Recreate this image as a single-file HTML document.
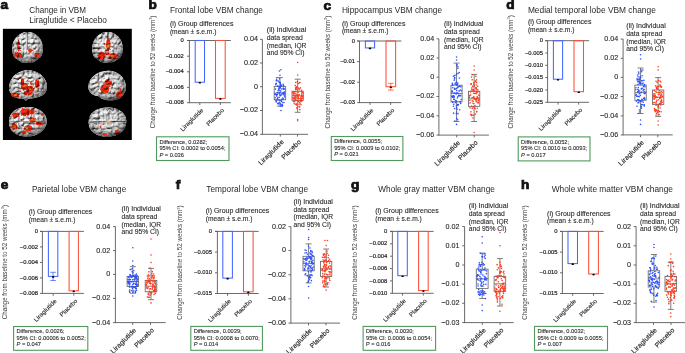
<!DOCTYPE html>
<html><head><meta charset="utf-8"><style>
html,body{margin:0;padding:0;background:#fff;}
svg{display:block;will-change:transform;}
text{font-family:"Liberation Sans", sans-serif;}
.b{stroke:#1e1e1e;stroke-width:0.09px;}
.s{stroke:#1e1e1e;stroke-width:0.2px;}
</style></head><body>
<svg width="685" height="353" viewBox="0 0 685 353" font-family='"Liberation Sans", sans-serif' fill="#1e1e1e">
<rect x="2.9" y="28.8" width="128.9" height="111.2" fill="#000"/>
<text transform="translate(0.6,9) scale(1.12,1)" x="0" y="0" font-size="12.2" font-weight="bold" stroke="#111" stroke-width="0.75" fill="#111">a</text>
<text x="29.30" y="13.00" font-size="8.2" textLength="56.70" lengthAdjust="spacingAndGlyphs" fill="#2a2a2a">Change in VBM</text>
<text x="29.30" y="22.50" font-size="8.2" textLength="77.60" lengthAdjust="spacingAndGlyphs" fill="#2a2a2a">Liraglutide &lt; Placebo</text>
<defs>
<radialGradient id="bg" cx="0.45" cy="0.4" r="0.62">
<stop offset="0" stop-color="#ffffff"/><stop offset="0.5" stop-color="#f2f2f2"/><stop offset="0.82" stop-color="#b4b4b4"/><stop offset="1" stop-color="#4c4c4c"/>
</radialGradient>
<filter id="bump" x="0" y="0" width="1" height="1" color-interpolation-filters="sRGB">
<feTurbulence type="turbulence" baseFrequency="0.2" numOctaves="3" seed="5" result="t"/>
<feColorMatrix in="t" type="matrix" values="0 0 0 0 0  0 0 0 0 0  0 0 0 0 0  1 0 0 0 0" result="h"/>
<feDiffuseLighting in="h" surfaceScale="2.2" diffuseConstant="1.15" lighting-color="#e8e8e8" result="lit">
<feDistantLight azimuth="235" elevation="55"/>
</feDiffuseLighting>
<feComposite in="lit" in2="SourceGraphic" operator="in" result="c"/>
<feBlend in="c" in2="SourceGraphic" mode="multiply"/>
</filter>
<filter id="tex" x="0" y="0" width="1" height="1" color-interpolation-filters="sRGB">
<feTurbulence type="fractalNoise" baseFrequency="0.24" numOctaves="2" seed="11" result="n"/>
<feColorMatrix in="n" type="matrix" values="0 0 0 0 0  0 0 0 0 0  0 0 0 0 0  1 0 0 0 0" result="r"/>
<feComponentTransfer in="r" result="a0"><feFuncA type="table" tableValues="0 0 0 0.1 0.9 0.1 0 0 0"/></feComponentTransfer>
<feGaussianBlur in="a0" stdDeviation="0.35" result="a"/>
<feComposite in="a" in2="SourceGraphic" operator="in"/>
</filter>
<filter id="rb" x="-0.5" y="-0.5" width="2" height="2"><feGaussianBlur stdDeviation="0.4"/></filter>
<filter id="disp" x="0" y="0" width="1" height="1" color-interpolation-filters="sRGB">
<feTurbulence type="fractalNoise" baseFrequency="0.6" numOctaves="2" seed="4" result="t"/>
<feDisplacementMap in="SourceGraphic" in2="t" scale="2.6" xChannelSelector="R" yChannelSelector="G" result="d"/>
<feGaussianBlur in="d" stdDeviation="0.35"/>
</filter>
</defs>
<g filter="url(#bump)">
<path d="M27.6,32.1 C35,32 42.5,38 42.9,48 C43.2,53 41.5,57 39,58.5 C36,60 35,62.5 30,62.7 C27.5,62.9 26,62.9 24,62.7 C20,62.5 19,60 16,58.5 C13.5,57 12,53 12.3,48 C12.7,38 20,32.1 27.6,32.1 Z" fill="url(#bg)"/>
<path d="M107.6,32.1 C115,32 122.5,38 122.7,48 C123,53 121.5,57 119,58.5 C116,60 115,62.3 110,62.4 C107.5,62.6 106,62.6 104,62.4 C100,62.3 99,60 96,58.5 C93.5,57 92,53 92.3,48 C92.7,38 100,32.1 107.6,32.1 Z" fill="url(#bg)"/>
<path d="M9.1,88 C9,80 15,71.5 26,70.3 C36,69.5 44,75 46.5,83 C47.8,88 46.5,92.5 43,95 C39,97.5 33,98.5 28,98.8 L26,100.8 L23.5,98.8 C20,99.5 15,98 12,94.5 C10,92.5 9.1,90.5 9.1,88 Z" fill="url(#bg)"/>
<path d="M88.3,86 C89,78 97,71 108,70.8 C118,70.6 125.5,78 125.9,86.5 C126.2,92 123,97 117,99.5 C112,101 106,100.5 101,98.5 L98,96 C94,96 90,93 88.8,90 C88.4,88.5 88.3,87.5 88.3,86 Z" fill="url(#bg)"/>
<path d="M9,121.5 C9,113 16,107.2 28,107.1 C39,107 46.8,114 46.8,121 C46.8,129 39,136.6 27,136.6 C16,136.6 9,130 9,123 L10.5,122 Z" fill="url(#bg)"/>
<path d="M88.6,122.4 C88.6,113 96,107.6 108.5,107.6 C119,107.6 126.3,114 126.3,121 C126.3,130 119,136.6 107.5,136.6 C96,136.6 88.6,131 88.6,122.4 Z" fill="url(#bg)"/>
<path d="M27.6,32.5 L27.6,50" stroke="#555" stroke-width="0.7" fill="none"/>
<path d="M107.6,32.5 L107.6,50" stroke="#555" stroke-width="0.7" fill="none"/>
<path d="M89.5,122.2 C100,121.6 115,121.8 125.8,121.5" stroke="#3c3c3c" stroke-width="0.9" fill="none"/>
<path d="M10,121.7 C20,121.4 35,121.6 46,121.2" stroke="#6a6a6a" stroke-width="0.6" fill="none"/>
<g filter="url(#disp)"><rect x="2.6" y="28.8" width="129" height="110.2" fill="none"/>
<ellipse cx="18.6" cy="46.3" rx="1.45" ry="5.22" fill="#ff2a12"/>
<ellipse cx="17.9" cy="54.8" rx="4.04" ry="2.51" fill="#ff2a12" transform="rotate(10 17.9 54.8)"/>
<ellipse cx="20.5" cy="56.8" rx="1.57" ry="1.21" fill="#ff2a12"/>
<ellipse cx="30.0" cy="50.6" rx="1.92" ry="2.04" fill="#ff2a12"/>
<ellipse cx="37.2" cy="54.9" rx="2.86" ry="2.04" fill="#ff2a12"/>
<ellipse cx="31.4" cy="59.8" rx="0.98" ry="0.98" fill="#ff2a12"/>
<ellipse cx="108.4" cy="44.6" rx="2.27" ry="6.29" fill="#ff2a12"/>
<ellipse cx="108.3" cy="46.2" rx="1.09" ry="2.75" fill="#ff7a10"/>
<ellipse cx="108.3" cy="46.4" rx="0.68" ry="1.57" fill="#ffd23a"/>
<ellipse cx="101.8" cy="56.0" rx="3.69" ry="4.04" fill="#ff2a12"/>
<ellipse cx="107.5" cy="53.8" rx="2.51" ry="1.57" fill="#ff2a12"/>
<ellipse cx="113.0" cy="56.4" rx="4.40" ry="3.22" fill="#ff2a12"/>
<ellipse cx="111.8" cy="56.0" rx="1.92" ry="1.33" fill="#ff7a10"/>
<ellipse cx="98.5" cy="49.5" rx="0.86" ry="0.86" fill="#ff2a12"/>
<ellipse cx="104.5" cy="44" rx="0.86" ry="1.09" fill="#ff2a12"/>
<ellipse cx="113" cy="43" rx="0.74" ry="0.86" fill="#ff2a12"/>
<ellipse cx="106.5" cy="50.5" rx="1.57" ry="1.09" fill="#ff2a12"/>
<ellipse cx="22.5" cy="81.5" rx="1.68" ry="3.10" fill="#ff2a12"/>
<ellipse cx="24.5" cy="86.5" rx="3.69" ry="3.45" fill="#ff2a12"/>
<ellipse cx="25.8" cy="86.0" rx="1.92" ry="1.33" fill="#ff7a10"/>
<ellipse cx="30.0" cy="89.0" rx="3.93" ry="3.22" fill="#ff2a12"/>
<ellipse cx="30.2" cy="89.2" rx="1.92" ry="1.33" fill="#ff7a10"/>
<ellipse cx="30.2" cy="89.2" rx="0.98" ry="0.74" fill="#ffd23a"/>
<ellipse cx="28.0" cy="93.0" rx="4.40" ry="2.27" fill="#ff2a12"/>
<ellipse cx="37.2" cy="84.0" rx="2.27" ry="4.40" fill="#ff2a12"/>
<ellipse cx="15.6" cy="95.0" rx="3.93" ry="2.27" fill="#ff2a12"/>
<ellipse cx="15.6" cy="95.2" rx="1.68" ry="0.98" fill="#ff7a10"/>
<ellipse cx="28.3" cy="80.5" rx="1.09" ry="1.09" fill="#ff2a12"/>
<ellipse cx="31.5" cy="83.5" rx="1.21" ry="1.21" fill="#ff2a12"/>
<ellipse cx="20.5" cy="91.5" rx="1.09" ry="1.09" fill="#ff2a12"/>
<ellipse cx="35.5" cy="92" rx="1.09" ry="0.86" fill="#ff2a12"/>
<ellipse cx="20.5" cy="77.5" rx="0.86" ry="1.33" fill="#ff2a12"/>
<ellipse cx="104.8" cy="89.0" rx="4.40" ry="4.87" fill="#ff2a12"/>
<ellipse cx="103.0" cy="92.3" rx="1.80" ry="1.57" fill="#ff7a10"/>
<ellipse cx="102.8" cy="92.6" rx="0.86" ry="0.86" fill="#ffd23a"/>
<ellipse cx="108.3" cy="83.0" rx="3.69" ry="4.04" fill="#ff2a12"/>
<ellipse cx="107.3" cy="85.3" rx="1.57" ry="1.21" fill="#ff7a10"/>
<ellipse cx="107.3" cy="85.5" rx="0.86" ry="0.74" fill="#ffd23a"/>
<ellipse cx="119.3" cy="94.5" rx="3.22" ry="2.98" fill="#ff2a12"/>
<ellipse cx="120.5" cy="89.5" rx="1.09" ry="1.57" fill="#ff2a12"/>
<ellipse cx="98.5" cy="82" rx="0.86" ry="0.86" fill="#ff2a12"/>
<ellipse cx="112" cy="88" rx="1.33" ry="0.86" fill="#ff2a12"/>
<ellipse cx="25.5" cy="112.2" rx="5.11" ry="4.04" fill="#ff2a12"/>
<ellipse cx="31.5" cy="111.8" rx="3.22" ry="2.75" fill="#ff2a12"/>
<ellipse cx="16.0" cy="115.2" rx="3.69" ry="2.27" fill="#ff2a12" transform="rotate(-20 16.0 115.2)"/>
<ellipse cx="32.5" cy="120.0" rx="3.10" ry="2.51" fill="#ff2a12"/>
<ellipse cx="32.8" cy="119.8" rx="1.57" ry="1.21" fill="#ff7a10"/>
<ellipse cx="39.5" cy="123.5" rx="3.93" ry="1.92" fill="#ff2a12"/>
<ellipse cx="14.4" cy="126.5" rx="2.75" ry="3.10" fill="#ff2a12"/>
<ellipse cx="14.8" cy="127.2" rx="1.21" ry="1.21" fill="#ff7a10"/>
<ellipse cx="28.3" cy="128.5" rx="4.28" ry="3.22" fill="#ff2a12"/>
<ellipse cx="26.5" cy="128.2" rx="1.33" ry="1.09" fill="#ffd23a"/>
<ellipse cx="24.0" cy="132.5" rx="2.75" ry="1.68" fill="#ff2a12"/>
<ellipse cx="21.5" cy="119.8" rx="0.98" ry="0.98" fill="#ff2a12"/>
<ellipse cx="42.5" cy="115.0" rx="1.33" ry="1.09" fill="#ff2a12"/>
<ellipse cx="107.0" cy="110.3" rx="1.21" ry="0.98" fill="#ff2a12"/>
<ellipse cx="108.3" cy="121.5" rx="3.93" ry="0.86" fill="#ff7a10"/>
<ellipse cx="108.3" cy="121.5" rx="1.92" ry="0.56" fill="#ffd23a"/>
<ellipse cx="117.0" cy="132.0" rx="2.27" ry="1.45" fill="#ff2a12"/>
<ellipse cx="105.0" cy="134.6" rx="2.16" ry="1.33" fill="#ff2a12"/>
<ellipse cx="100.5" cy="126.8" rx="0.98" ry="1.33" fill="#ff2a12"/>
<ellipse cx="101.5" cy="129.5" rx="0.74" ry="0.74" fill="#ff2a12"/>
<ellipse cx="94" cy="121.6" rx="0.86" ry="0.62" fill="#ff2a12"/>
</g>
</g>
<text transform="translate(148.6,9.2) scale(1.12,1)" x="0" y="0" font-size="12.2" font-weight="bold" stroke="#111" stroke-width="0.75" fill="#111">b</text>
<text x="169.90" y="12.80" font-size="8.2" textLength="93.00" lengthAdjust="spacingAndGlyphs" fill="#2a2a2a">Frontal lobe VBM change</text>
<text x="169.90" y="25.90" font-size="7" textLength="63.50" lengthAdjust="spacingAndGlyphs" class="b">(i) Group differences</text>
<text x="169.90" y="33.60" font-size="7" textLength="46.60" lengthAdjust="spacingAndGlyphs" class="b">(mean ± s.e.m.)</text>
<text transform="translate(154.50,71.95) rotate(-90)" x="0" y="0" font-size="6.3" fill="#3a3a3a" text-anchor="middle" textLength="112.70" lengthAdjust="spacingAndGlyphs">Change from baseline to 52 weeks (mm<tspan font-size="4" dy="-2.4">3</tspan><tspan dy="2.4">)</tspan></text>
<line x1="189.40" y1="40.50" x2="189.40" y2="103.15" stroke="#5a5a5a" stroke-width="0.9"/>
<line x1="187.00" y1="40.50" x2="189.40" y2="40.50" stroke="#5a5a5a" stroke-width="0.9"/>
<text x="183.70" y="42.10" font-size="5.85" text-anchor="end" class="s">0</text>
<line x1="187.00" y1="56.20" x2="189.40" y2="56.20" stroke="#5a5a5a" stroke-width="0.9"/>
<text x="183.70" y="57.80" font-size="5.85" text-anchor="end" class="s">−0.002</text>
<line x1="187.00" y1="71.80" x2="189.40" y2="71.80" stroke="#5a5a5a" stroke-width="0.9"/>
<text x="183.70" y="73.40" font-size="5.85" text-anchor="end" class="s">−0.004</text>
<line x1="187.00" y1="87.40" x2="189.40" y2="87.40" stroke="#5a5a5a" stroke-width="0.9"/>
<text x="183.70" y="89.00" font-size="5.85" text-anchor="end" class="s">−0.006</text>
<line x1="187.00" y1="102.70" x2="189.40" y2="102.70" stroke="#5a5a5a" stroke-width="0.9"/>
<text x="183.70" y="104.30" font-size="5.85" text-anchor="end" class="s">−0.008</text>
<line x1="187.00" y1="40.50" x2="230.80" y2="40.50" stroke="#5a5a5a" stroke-width="0.9"/>
<line x1="189.40" y1="102.70" x2="230.80" y2="102.70" stroke="#5a5a5a" stroke-width="0.9"/>
<line x1="199.80" y1="102.70" x2="199.80" y2="105.00" stroke="#5a5a5a" stroke-width="0.9"/>
<line x1="220.40" y1="102.70" x2="220.40" y2="105.00" stroke="#5a5a5a" stroke-width="0.9"/>
<rect x="195.20" y="40.50" width="9.30" height="41.70" fill="none" stroke="#4468ff" stroke-width="1.05"/>
<ellipse cx="199.85" cy="82.75" rx="1.25" ry="0.85" fill="#000"/>
<rect x="215.50" y="40.50" width="9.70" height="57.90" fill="none" stroke="#fb503a" stroke-width="1.05"/>
<ellipse cx="220.35" cy="98.95" rx="1.25" ry="0.85" fill="#000"/>
<text transform="translate(203.70,110.70) rotate(-45) scale(0.0961,0.09)" x="0" y="0" font-size="67" text-anchor="end" stroke="#1e1e1e" stroke-width="1.3">Liraglutide</text>
<text transform="translate(224.30,110.70) rotate(-45) scale(0.0914,0.09)" x="0" y="0" font-size="67" text-anchor="end" stroke="#1e1e1e" stroke-width="1.3">Placebo</text>
<rect x="156.50" y="136.80" width="72.50" height="23.70" fill="none" stroke="#4f9a5c" stroke-width="1.1"/>
<text x="159.40" y="143.70" font-size="5.7" class="b">Difference, 0.0282;</text>
<text x="159.40" y="150.20" font-size="5.7" class="b">95% CI: 0.0002 to 0.0054;</text>
<text class="b" x="159.40" y="156.70" font-size="5.7"><tspan font-style="italic">P</tspan> = 0.036</text>
<text x="266.80" y="32.00" font-size="7" textLength="39.40" lengthAdjust="spacingAndGlyphs" class="b">(ii) Individual</text>
<text x="266.80" y="39.80" font-size="7" textLength="35.90" lengthAdjust="spacingAndGlyphs" class="b">data spread</text>
<text x="266.80" y="47.60" font-size="7" textLength="39.60" lengthAdjust="spacingAndGlyphs" class="b">(median, IQR</text>
<text x="266.80" y="55.40" font-size="7" textLength="37.60" lengthAdjust="spacingAndGlyphs" class="b">and 95% CI)</text>
<line x1="262.40" y1="39.30" x2="262.40" y2="134.75" stroke="#5a5a5a" stroke-width="0.9"/>
<line x1="260.00" y1="39.30" x2="262.40" y2="39.30" stroke="#5a5a5a" stroke-width="0.9"/>
<text x="257.90" y="41.20" font-size="7.2" text-anchor="end" class="b">0.04</text>
<line x1="260.00" y1="63.00" x2="262.40" y2="63.00" stroke="#5a5a5a" stroke-width="0.9"/>
<text x="257.90" y="64.90" font-size="7.2" text-anchor="end" class="b">0.02</text>
<line x1="260.00" y1="86.70" x2="262.40" y2="86.70" stroke="#5a5a5a" stroke-width="0.9"/>
<text x="257.90" y="88.60" font-size="7.2" text-anchor="end" class="b">0</text>
<line x1="260.00" y1="110.50" x2="262.40" y2="110.50" stroke="#5a5a5a" stroke-width="0.9"/>
<text x="257.90" y="112.40" font-size="7.2" text-anchor="end" class="b">−0.02</text>
<line x1="260.00" y1="134.30" x2="262.40" y2="134.30" stroke="#5a5a5a" stroke-width="0.9"/>
<text x="257.90" y="136.20" font-size="7.2" text-anchor="end" class="b">−0.04</text>
<line x1="262.40" y1="134.30" x2="308.00" y2="134.30" stroke="#5a5a5a" stroke-width="0.9"/>
<line x1="280.30" y1="134.30" x2="280.30" y2="136.60" stroke="#5a5a5a" stroke-width="0.9"/>
<line x1="297.50" y1="134.30" x2="297.50" y2="136.60" stroke="#5a5a5a" stroke-width="0.9"/>
<text transform="translate(284.20,142.30) rotate(-45) scale(0.1068,0.1)" x="0" y="0" font-size="67" text-anchor="end" stroke="#1e1e1e" stroke-width="1.3">Liraglutide</text>
<text transform="translate(301.40,142.30) rotate(-45) scale(0.1016,0.1)" x="0" y="0" font-size="67" text-anchor="end" stroke="#1e1e1e" stroke-width="1.3">Placebo</text>
<rect x="274.20" y="86.40" width="11.50" height="13.40" fill="none" stroke="#686868" stroke-width="0.85"/>
<line x1="274.20" y1="93.10" x2="285.70" y2="93.10" stroke="#686868" stroke-width="0.85"/>
<line x1="279.95" y1="77.60" x2="279.95" y2="86.40" stroke="#686868" stroke-width="0.85"/>
<line x1="279.95" y1="99.80" x2="279.95" y2="106.10" stroke="#686868" stroke-width="0.85"/>
<line x1="276.95" y1="77.60" x2="282.95" y2="77.60" stroke="#686868" stroke-width="0.85"/>
<line x1="276.95" y1="106.10" x2="282.95" y2="106.10" stroke="#686868" stroke-width="0.85"/>
<g fill="#2d50ff"><circle cx="281.90" cy="105.90" r="0.8"/><circle cx="279.43" cy="92.73" r="0.8"/><circle cx="281.13" cy="104.71" r="0.8"/><circle cx="275.10" cy="94.16" r="0.8"/><circle cx="283.26" cy="88.82" r="0.8"/><circle cx="276.65" cy="77.74" r="0.8"/><circle cx="279.44" cy="100.00" r="0.8"/><circle cx="284.52" cy="91.83" r="0.8"/><circle cx="283.65" cy="86.05" r="0.8"/><circle cx="280.37" cy="95.31" r="0.8"/><circle cx="284.47" cy="93.53" r="0.8"/><circle cx="279.19" cy="88.00" r="0.8"/><circle cx="275.34" cy="97.81" r="0.8"/><circle cx="279.91" cy="94.99" r="0.8"/><circle cx="277.77" cy="103.59" r="0.8"/><circle cx="279.53" cy="93.94" r="0.8"/><circle cx="278.01" cy="100.03" r="0.8"/><circle cx="280.52" cy="95.65" r="0.8"/><circle cx="284.84" cy="89.11" r="0.8"/><circle cx="283.45" cy="88.13" r="0.8"/><circle cx="282.02" cy="99.58" r="0.8"/><circle cx="281.95" cy="99.25" r="0.8"/><circle cx="282.74" cy="102.68" r="0.8"/><circle cx="281.64" cy="89.06" r="0.8"/><circle cx="283.72" cy="88.75" r="0.8"/><circle cx="282.55" cy="105.58" r="0.8"/><circle cx="276.57" cy="79.86" r="0.8"/><circle cx="277.30" cy="92.66" r="0.8"/><circle cx="276.65" cy="96.12" r="0.8"/><circle cx="280.36" cy="83.28" r="0.8"/><circle cx="278.71" cy="88.77" r="0.8"/><circle cx="279.53" cy="78.86" r="0.8"/><circle cx="280.17" cy="92.19" r="0.8"/><circle cx="275.90" cy="84.07" r="0.8"/><circle cx="275.76" cy="100.26" r="0.8"/><circle cx="280.78" cy="84.90" r="0.8"/><circle cx="279.97" cy="88.34" r="0.8"/><circle cx="284.75" cy="96.86" r="0.8"/><circle cx="283.64" cy="94.69" r="0.8"/><circle cx="277.92" cy="80.83" r="0.8"/><circle cx="280.74" cy="90.98" r="0.8"/><circle cx="280.38" cy="85.49" r="0.8"/><circle cx="284.61" cy="95.10" r="0.8"/><circle cx="283.25" cy="93.72" r="0.8"/><circle cx="282.29" cy="105.42" r="0.8"/><circle cx="280.10" cy="82.40" r="0.8"/><circle cx="276.22" cy="83.40" r="0.8"/><circle cx="283.63" cy="89.16" r="0.8"/><circle cx="279.99" cy="87.10" r="0.8"/><circle cx="279.80" cy="90.28" r="0.8"/><circle cx="280.32" cy="87.41" r="0.8"/><circle cx="281.08" cy="100.27" r="0.8"/><circle cx="275.78" cy="84.74" r="0.8"/><circle cx="277.47" cy="85.96" r="0.8"/><circle cx="283.39" cy="98.91" r="0.8"/><circle cx="282.25" cy="104.91" r="0.8"/><circle cx="277.59" cy="98.43" r="0.8"/><circle cx="276.24" cy="101.20" r="0.8"/><circle cx="276.32" cy="80.65" r="0.8"/><circle cx="277.38" cy="94.62" r="0.8"/><circle cx="278.69" cy="103.85" r="0.8"/><circle cx="276.21" cy="101.93" r="0.8"/><circle cx="276.85" cy="99.64" r="0.8"/><circle cx="278.08" cy="103.35" r="0.8"/><circle cx="278.15" cy="90.49" r="0.8"/><circle cx="279.74" cy="82.48" r="0.8"/><circle cx="279.29" cy="102.81" r="0.8"/><circle cx="276.75" cy="94.55" r="0.8"/><circle cx="280.93" cy="86.31" r="0.8"/><circle cx="283.21" cy="92.67" r="0.8"/><circle cx="276.34" cy="94.97" r="0.8"/><circle cx="282.20" cy="93.35" r="0.8"/><circle cx="281.53" cy="101.39" r="0.8"/><circle cx="280.28" cy="106.21" r="0.8"/><circle cx="282.85" cy="98.07" r="0.8"/><circle cx="281.32" cy="86.08" r="0.8"/><circle cx="278.87" cy="92.37" r="0.8"/><circle cx="281.13" cy="85.33" r="0.8"/><circle cx="275.57" cy="89.09" r="0.8"/><circle cx="283.32" cy="85.27" r="0.8"/><circle cx="278.19" cy="86.28" r="0.8"/><circle cx="279.16" cy="87.00" r="0.8"/><circle cx="283.85" cy="93.08" r="0.8"/><circle cx="275.21" cy="94.40" r="0.8"/><circle cx="280.52" cy="103.84" r="0.8"/><circle cx="283.97" cy="102.56" r="0.8"/><circle cx="278.73" cy="89.73" r="0.8"/><circle cx="278.75" cy="81.75" r="0.8"/><circle cx="279.29" cy="97.18" r="0.8"/><circle cx="281.65" cy="94.70" r="0.8"/><circle cx="277.94" cy="97.48" r="0.8"/><circle cx="283.18" cy="84.29" r="0.8"/><circle cx="279.45" cy="71.00" r="0.8"/><circle cx="280.95" cy="69.70" r="0.8"/><circle cx="279.95" cy="75.30" r="0.8"/><circle cx="280.95" cy="110.50" r="0.8"/></g>
<rect x="292.00" y="91.30" width="11.30" height="9.10" fill="none" stroke="#686868" stroke-width="0.85"/>
<line x1="292.00" y1="95.85" x2="303.30" y2="95.85" stroke="#686868" stroke-width="0.85"/>
<line x1="297.65" y1="79.20" x2="297.65" y2="91.30" stroke="#686868" stroke-width="0.85"/>
<line x1="297.65" y1="100.40" x2="297.65" y2="112.30" stroke="#686868" stroke-width="0.85"/>
<line x1="294.65" y1="79.20" x2="300.65" y2="79.20" stroke="#686868" stroke-width="0.85"/>
<line x1="294.65" y1="112.30" x2="300.65" y2="112.30" stroke="#686868" stroke-width="0.85"/>
<g fill="#ff3a1e"><circle cx="301.69" cy="95.86" r="0.8"/><circle cx="296.07" cy="100.34" r="0.8"/><circle cx="302.56" cy="96.36" r="0.8"/><circle cx="294.77" cy="97.10" r="0.8"/><circle cx="299.13" cy="89.84" r="0.8"/><circle cx="296.48" cy="104.04" r="0.8"/><circle cx="299.74" cy="82.52" r="0.8"/><circle cx="302.34" cy="92.86" r="0.8"/><circle cx="295.53" cy="88.68" r="0.8"/><circle cx="294.32" cy="95.41" r="0.8"/><circle cx="301.64" cy="93.05" r="0.8"/><circle cx="298.63" cy="98.47" r="0.8"/><circle cx="299.78" cy="106.93" r="0.8"/><circle cx="295.71" cy="91.69" r="0.8"/><circle cx="301.00" cy="100.38" r="0.8"/><circle cx="299.77" cy="82.54" r="0.8"/><circle cx="295.25" cy="85.66" r="0.8"/><circle cx="293.20" cy="92.85" r="0.8"/><circle cx="293.36" cy="94.85" r="0.8"/><circle cx="300.15" cy="103.77" r="0.8"/><circle cx="296.51" cy="86.99" r="0.8"/><circle cx="296.77" cy="87.03" r="0.8"/><circle cx="298.19" cy="88.05" r="0.8"/><circle cx="295.30" cy="96.31" r="0.8"/><circle cx="301.45" cy="98.60" r="0.8"/><circle cx="297.43" cy="81.74" r="0.8"/><circle cx="295.76" cy="89.80" r="0.8"/><circle cx="292.93" cy="98.77" r="0.8"/><circle cx="298.64" cy="83.54" r="0.8"/><circle cx="301.39" cy="98.65" r="0.8"/><circle cx="293.08" cy="97.67" r="0.8"/><circle cx="296.86" cy="97.16" r="0.8"/><circle cx="295.16" cy="98.90" r="0.8"/><circle cx="300.03" cy="98.56" r="0.8"/><circle cx="296.93" cy="107.69" r="0.8"/><circle cx="301.01" cy="104.78" r="0.8"/><circle cx="295.42" cy="100.59" r="0.8"/><circle cx="297.43" cy="92.81" r="0.8"/><circle cx="294.14" cy="103.78" r="0.8"/><circle cx="293.43" cy="101.62" r="0.8"/><circle cx="298.49" cy="101.46" r="0.8"/><circle cx="297.14" cy="95.23" r="0.8"/><circle cx="301.81" cy="94.91" r="0.8"/><circle cx="302.28" cy="98.09" r="0.8"/><circle cx="294.92" cy="99.07" r="0.8"/><circle cx="298.84" cy="95.23" r="0.8"/><circle cx="299.04" cy="104.22" r="0.8"/><circle cx="299.28" cy="94.79" r="0.8"/><circle cx="295.71" cy="95.37" r="0.8"/><circle cx="295.78" cy="104.26" r="0.8"/><circle cx="302.02" cy="100.63" r="0.8"/><circle cx="297.14" cy="98.53" r="0.8"/><circle cx="301.48" cy="90.25" r="0.8"/><circle cx="296.82" cy="87.94" r="0.8"/><circle cx="295.84" cy="93.75" r="0.8"/><circle cx="300.66" cy="101.48" r="0.8"/><circle cx="296.13" cy="100.34" r="0.8"/><circle cx="298.07" cy="92.30" r="0.8"/><circle cx="295.72" cy="87.86" r="0.8"/><circle cx="293.23" cy="91.53" r="0.8"/><circle cx="298.17" cy="95.95" r="0.8"/><circle cx="293.46" cy="98.46" r="0.8"/><circle cx="296.12" cy="104.38" r="0.8"/><circle cx="300.34" cy="100.21" r="0.8"/><circle cx="295.77" cy="82.42" r="0.8"/><circle cx="297.66" cy="96.42" r="0.8"/><circle cx="302.17" cy="96.60" r="0.8"/><circle cx="294.46" cy="93.25" r="0.8"/><circle cx="300.74" cy="99.05" r="0.8"/><circle cx="297.79" cy="94.49" r="0.8"/><circle cx="301.71" cy="98.75" r="0.8"/><circle cx="294.29" cy="92.00" r="0.8"/><circle cx="299.85" cy="109.60" r="0.8"/><circle cx="301.12" cy="101.61" r="0.8"/><circle cx="300.70" cy="97.02" r="0.8"/><circle cx="299.21" cy="106.64" r="0.8"/><circle cx="299.17" cy="88.73" r="0.8"/><circle cx="294.36" cy="98.98" r="0.8"/><circle cx="299.43" cy="102.31" r="0.8"/><circle cx="293.39" cy="93.31" r="0.8"/><circle cx="301.89" cy="91.37" r="0.8"/><circle cx="298.05" cy="98.90" r="0.8"/><circle cx="300.32" cy="87.90" r="0.8"/><circle cx="296.31" cy="89.37" r="0.8"/><circle cx="295.25" cy="97.81" r="0.8"/><circle cx="297.08" cy="105.46" r="0.8"/><circle cx="298.36" cy="97.34" r="0.8"/><circle cx="294.55" cy="101.69" r="0.8"/><circle cx="293.97" cy="98.26" r="0.8"/><circle cx="296.62" cy="95.12" r="0.8"/><circle cx="297.09" cy="108.51" r="0.8"/><circle cx="293.01" cy="92.11" r="0.8"/><circle cx="297.65" cy="62.50" r="0.8"/><circle cx="297.65" cy="75.00" r="0.8"/><circle cx="297.65" cy="120.80" r="0.8"/><circle cx="297.65" cy="119.50" r="0.8"/></g>
<text transform="translate(323.6,9.6) scale(1.12,1)" x="0" y="0" font-size="12.2" font-weight="bold" stroke="#111" stroke-width="0.75" fill="#111">c</text>
<text x="341.90" y="12.90" font-size="8.2" textLength="100.10" lengthAdjust="spacingAndGlyphs" fill="#2a2a2a">Hippocampus VBM change</text>
<text x="341.90" y="25.60" font-size="7" textLength="63.50" lengthAdjust="spacingAndGlyphs" class="b">(i) Group differences</text>
<text x="341.90" y="33.30" font-size="7" textLength="46.60" lengthAdjust="spacingAndGlyphs" class="b">(mean ± s.e.m.)</text>
<text transform="translate(329.70,72.15) rotate(-90)" x="0" y="0" font-size="6.3" fill="#3a3a3a" text-anchor="middle" textLength="112.70" lengthAdjust="spacingAndGlyphs">Change from baseline to 52 weeks (mm<tspan font-size="4" dy="-2.4">3</tspan><tspan dy="2.4">)</tspan></text>
<line x1="359.50" y1="41.00" x2="359.50" y2="103.05" stroke="#5a5a5a" stroke-width="0.9"/>
<line x1="357.10" y1="41.00" x2="359.50" y2="41.00" stroke="#5a5a5a" stroke-width="0.9"/>
<text x="355.00" y="42.60" font-size="5.85" text-anchor="end" class="s">0</text>
<line x1="357.10" y1="61.60" x2="359.50" y2="61.60" stroke="#5a5a5a" stroke-width="0.9"/>
<text x="355.00" y="63.20" font-size="5.85" text-anchor="end" class="s">−0.01</text>
<line x1="357.10" y1="82.20" x2="359.50" y2="82.20" stroke="#5a5a5a" stroke-width="0.9"/>
<text x="355.00" y="83.80" font-size="5.85" text-anchor="end" class="s">−0.02</text>
<line x1="357.10" y1="102.60" x2="359.50" y2="102.60" stroke="#5a5a5a" stroke-width="0.9"/>
<text x="355.00" y="104.20" font-size="5.85" text-anchor="end" class="s">−0.03</text>
<line x1="357.10" y1="41.00" x2="401.40" y2="41.00" stroke="#5a5a5a" stroke-width="0.9"/>
<line x1="359.50" y1="102.60" x2="401.40" y2="102.60" stroke="#5a5a5a" stroke-width="0.9"/>
<line x1="370.00" y1="102.60" x2="370.00" y2="104.90" stroke="#5a5a5a" stroke-width="0.9"/>
<line x1="390.70" y1="102.60" x2="390.70" y2="104.90" stroke="#5a5a5a" stroke-width="0.9"/>
<rect x="365.40" y="41.00" width="9.20" height="6.90" fill="none" stroke="#4468ff" stroke-width="1.05"/>
<ellipse cx="370.00" cy="48.45" rx="1.25" ry="0.85" fill="#000"/>
<rect x="386.00" y="41.00" width="9.60" height="45.70" fill="none" stroke="#fb503a" stroke-width="1.05"/>
<line x1="390.80" y1="83.30" x2="390.80" y2="90.10" stroke="#fb503a" stroke-width="0.8"/>
<line x1="388.00" y1="83.30" x2="393.60" y2="83.30" stroke="#fb503a" stroke-width="0.8"/>
<line x1="388.00" y1="90.10" x2="393.60" y2="90.10" stroke="#fb503a" stroke-width="0.8"/>
<ellipse cx="390.80" cy="87.25" rx="1.25" ry="0.85" fill="#000"/>
<text transform="translate(373.90,110.60) rotate(-45) scale(0.0961,0.09)" x="0" y="0" font-size="67" text-anchor="end" stroke="#1e1e1e" stroke-width="1.3">Liraglutide</text>
<text transform="translate(394.60,110.60) rotate(-45) scale(0.0914,0.09)" x="0" y="0" font-size="67" text-anchor="end" stroke="#1e1e1e" stroke-width="1.3">Placebo</text>
<rect x="331.30" y="136.50" width="71.60" height="24.00" fill="none" stroke="#4f9a5c" stroke-width="1.1"/>
<text x="334.20" y="143.40" font-size="5.7" class="b">Difference, 0.0055;</text>
<text x="334.20" y="149.90" font-size="5.7" class="b">95% CI: 0.0009 to 0.0102;</text>
<text class="b" x="334.20" y="156.40" font-size="5.7"><tspan font-style="italic">P</tspan> = 0.021</text>
<text x="444.00" y="26.30" font-size="7" textLength="39.40" lengthAdjust="spacingAndGlyphs" class="b">(ii) Individual</text>
<text x="444.00" y="33.90" font-size="7" textLength="35.90" lengthAdjust="spacingAndGlyphs" class="b">data spread</text>
<text x="444.00" y="41.50" font-size="7" textLength="39.60" lengthAdjust="spacingAndGlyphs" class="b">(median, IQR</text>
<text x="444.00" y="49.10" font-size="7" textLength="37.60" lengthAdjust="spacingAndGlyphs" class="b">and 95% CI)</text>
<line x1="438.90" y1="38.80" x2="438.90" y2="135.55" stroke="#5a5a5a" stroke-width="0.9"/>
<line x1="436.50" y1="38.80" x2="438.90" y2="38.80" stroke="#5a5a5a" stroke-width="0.9"/>
<text x="434.30" y="40.70" font-size="7.2" text-anchor="end" class="b">0.04</text>
<line x1="436.50" y1="58.00" x2="438.90" y2="58.00" stroke="#5a5a5a" stroke-width="0.9"/>
<text x="434.30" y="59.90" font-size="7.2" text-anchor="end" class="b">0.02</text>
<line x1="436.50" y1="77.20" x2="438.90" y2="77.20" stroke="#5a5a5a" stroke-width="0.9"/>
<text x="434.30" y="79.10" font-size="7.2" text-anchor="end" class="b">0</text>
<line x1="436.50" y1="96.50" x2="438.90" y2="96.50" stroke="#5a5a5a" stroke-width="0.9"/>
<text x="434.30" y="98.40" font-size="7.2" text-anchor="end" class="b">−0.02</text>
<line x1="436.50" y1="115.80" x2="438.90" y2="115.80" stroke="#5a5a5a" stroke-width="0.9"/>
<text x="434.30" y="117.70" font-size="7.2" text-anchor="end" class="b">−0.04</text>
<line x1="436.50" y1="135.10" x2="438.90" y2="135.10" stroke="#5a5a5a" stroke-width="0.9"/>
<text x="434.30" y="137.00" font-size="7.2" text-anchor="end" class="b">−0.06</text>
<line x1="438.90" y1="135.10" x2="488.90" y2="135.10" stroke="#5a5a5a" stroke-width="0.9"/>
<line x1="456.70" y1="135.10" x2="456.70" y2="137.40" stroke="#5a5a5a" stroke-width="0.9"/>
<line x1="474.20" y1="135.10" x2="474.20" y2="137.40" stroke="#5a5a5a" stroke-width="0.9"/>
<text transform="translate(460.60,143.10) rotate(-45) scale(0.1068,0.1)" x="0" y="0" font-size="67" text-anchor="end" stroke="#1e1e1e" stroke-width="1.3">Liraglutide</text>
<text transform="translate(478.10,143.10) rotate(-45) scale(0.1016,0.1)" x="0" y="0" font-size="67" text-anchor="end" stroke="#1e1e1e" stroke-width="1.3">Placebo</text>
<rect x="451.00" y="85.20" width="11.10" height="16.60" fill="none" stroke="#686868" stroke-width="0.85"/>
<line x1="451.00" y1="93.50" x2="462.10" y2="93.50" stroke="#686868" stroke-width="0.85"/>
<line x1="456.55" y1="63.10" x2="456.55" y2="85.20" stroke="#686868" stroke-width="0.85"/>
<line x1="456.55" y1="101.80" x2="456.55" y2="121.50" stroke="#686868" stroke-width="0.85"/>
<line x1="453.55" y1="63.10" x2="459.55" y2="63.10" stroke="#686868" stroke-width="0.85"/>
<line x1="453.55" y1="121.50" x2="459.55" y2="121.50" stroke="#686868" stroke-width="0.85"/>
<g fill="#2d50ff"><circle cx="452.57" cy="85.34" r="0.8"/><circle cx="458.00" cy="113.63" r="0.8"/><circle cx="457.93" cy="105.38" r="0.8"/><circle cx="457.55" cy="87.50" r="0.8"/><circle cx="457.13" cy="109.19" r="0.8"/><circle cx="455.57" cy="100.61" r="0.8"/><circle cx="458.41" cy="104.46" r="0.8"/><circle cx="456.99" cy="92.52" r="0.8"/><circle cx="452.48" cy="84.35" r="0.8"/><circle cx="451.95" cy="96.80" r="0.8"/><circle cx="455.54" cy="82.99" r="0.8"/><circle cx="460.40" cy="95.86" r="0.8"/><circle cx="454.65" cy="77.93" r="0.8"/><circle cx="451.88" cy="90.96" r="0.8"/><circle cx="456.65" cy="90.47" r="0.8"/><circle cx="461.23" cy="99.44" r="0.8"/><circle cx="460.37" cy="89.94" r="0.8"/><circle cx="459.28" cy="86.57" r="0.8"/><circle cx="459.13" cy="90.88" r="0.8"/><circle cx="458.01" cy="66.83" r="0.8"/><circle cx="459.30" cy="72.48" r="0.8"/><circle cx="454.88" cy="121.03" r="0.8"/><circle cx="456.17" cy="93.99" r="0.8"/><circle cx="456.74" cy="74.00" r="0.8"/><circle cx="456.55" cy="65.56" r="0.8"/><circle cx="459.82" cy="95.26" r="0.8"/><circle cx="459.43" cy="78.02" r="0.8"/><circle cx="456.31" cy="113.74" r="0.8"/><circle cx="457.72" cy="68.29" r="0.8"/><circle cx="456.44" cy="82.08" r="0.8"/><circle cx="458.51" cy="95.42" r="0.8"/><circle cx="453.75" cy="104.23" r="0.8"/><circle cx="460.24" cy="101.64" r="0.8"/><circle cx="454.74" cy="88.18" r="0.8"/><circle cx="456.58" cy="112.07" r="0.8"/><circle cx="456.72" cy="88.40" r="0.8"/><circle cx="454.92" cy="83.99" r="0.8"/><circle cx="454.29" cy="80.16" r="0.8"/><circle cx="457.14" cy="64.88" r="0.8"/><circle cx="452.38" cy="91.36" r="0.8"/><circle cx="460.18" cy="101.98" r="0.8"/><circle cx="454.51" cy="75.61" r="0.8"/><circle cx="458.06" cy="93.36" r="0.8"/><circle cx="454.37" cy="89.22" r="0.8"/><circle cx="452.73" cy="97.18" r="0.8"/><circle cx="456.67" cy="118.35" r="0.8"/><circle cx="453.82" cy="99.10" r="0.8"/><circle cx="460.03" cy="86.18" r="0.8"/><circle cx="453.38" cy="76.20" r="0.8"/><circle cx="455.34" cy="102.60" r="0.8"/><circle cx="452.85" cy="102.17" r="0.8"/><circle cx="459.74" cy="109.72" r="0.8"/><circle cx="453.57" cy="113.15" r="0.8"/><circle cx="454.17" cy="96.66" r="0.8"/><circle cx="453.46" cy="96.29" r="0.8"/><circle cx="458.33" cy="86.87" r="0.8"/><circle cx="461.35" cy="90.75" r="0.8"/><circle cx="453.13" cy="95.91" r="0.8"/><circle cx="457.51" cy="104.51" r="0.8"/><circle cx="458.93" cy="96.05" r="0.8"/><circle cx="452.37" cy="101.96" r="0.8"/><circle cx="456.08" cy="100.78" r="0.8"/><circle cx="460.51" cy="95.52" r="0.8"/><circle cx="458.12" cy="73.41" r="0.8"/><circle cx="456.33" cy="105.99" r="0.8"/><circle cx="454.51" cy="78.87" r="0.8"/><circle cx="452.80" cy="87.80" r="0.8"/><circle cx="456.09" cy="84.41" r="0.8"/><circle cx="457.37" cy="98.04" r="0.8"/><circle cx="455.52" cy="88.95" r="0.8"/><circle cx="460.80" cy="86.67" r="0.8"/><circle cx="454.17" cy="92.86" r="0.8"/><circle cx="452.43" cy="83.41" r="0.8"/><circle cx="457.07" cy="85.56" r="0.8"/><circle cx="451.98" cy="96.17" r="0.8"/><circle cx="453.25" cy="96.75" r="0.8"/><circle cx="456.61" cy="107.90" r="0.8"/><circle cx="460.70" cy="103.40" r="0.8"/><circle cx="454.65" cy="77.53" r="0.8"/><circle cx="457.36" cy="84.71" r="0.8"/><circle cx="457.76" cy="96.68" r="0.8"/><circle cx="454.27" cy="99.50" r="0.8"/><circle cx="456.05" cy="75.11" r="0.8"/><circle cx="451.96" cy="92.31" r="0.8"/><circle cx="455.65" cy="93.30" r="0.8"/><circle cx="454.66" cy="108.62" r="0.8"/><circle cx="453.38" cy="106.19" r="0.8"/><circle cx="453.81" cy="97.21" r="0.8"/><circle cx="456.74" cy="101.62" r="0.8"/><circle cx="457.75" cy="83.17" r="0.8"/><circle cx="453.73" cy="95.85" r="0.8"/><circle cx="457.71" cy="119.82" r="0.8"/><circle cx="456.55" cy="57.00" r="0.8"/><circle cx="456.55" cy="60.00" r="0.8"/><circle cx="456.55" cy="124.40" r="0.8"/></g>
<rect x="468.50" y="91.30" width="11.30" height="15.00" fill="none" stroke="#686868" stroke-width="0.85"/>
<line x1="468.50" y1="98.80" x2="479.80" y2="98.80" stroke="#686868" stroke-width="0.85"/>
<line x1="474.15" y1="74.40" x2="474.15" y2="91.30" stroke="#686868" stroke-width="0.85"/>
<line x1="474.15" y1="106.30" x2="474.15" y2="121.50" stroke="#686868" stroke-width="0.85"/>
<line x1="471.15" y1="74.40" x2="477.15" y2="74.40" stroke="#686868" stroke-width="0.85"/>
<line x1="471.15" y1="121.50" x2="477.15" y2="121.50" stroke="#686868" stroke-width="0.85"/>
<g fill="#ff3a1e"><circle cx="473.70" cy="82.98" r="0.8"/><circle cx="470.93" cy="84.17" r="0.8"/><circle cx="473.32" cy="97.74" r="0.8"/><circle cx="470.39" cy="91.86" r="0.8"/><circle cx="477.20" cy="97.70" r="0.8"/><circle cx="477.84" cy="89.83" r="0.8"/><circle cx="475.09" cy="108.83" r="0.8"/><circle cx="472.99" cy="90.96" r="0.8"/><circle cx="471.52" cy="115.59" r="0.8"/><circle cx="472.20" cy="100.82" r="0.8"/><circle cx="469.91" cy="107.76" r="0.8"/><circle cx="473.79" cy="84.81" r="0.8"/><circle cx="471.75" cy="87.94" r="0.8"/><circle cx="474.97" cy="105.63" r="0.8"/><circle cx="473.01" cy="106.94" r="0.8"/><circle cx="478.41" cy="102.87" r="0.8"/><circle cx="472.10" cy="115.33" r="0.8"/><circle cx="474.78" cy="107.43" r="0.8"/><circle cx="476.33" cy="89.15" r="0.8"/><circle cx="473.20" cy="106.60" r="0.8"/><circle cx="470.04" cy="102.89" r="0.8"/><circle cx="477.59" cy="102.72" r="0.8"/><circle cx="475.37" cy="80.98" r="0.8"/><circle cx="471.54" cy="76.98" r="0.8"/><circle cx="476.02" cy="88.39" r="0.8"/><circle cx="474.14" cy="82.59" r="0.8"/><circle cx="476.86" cy="91.11" r="0.8"/><circle cx="472.16" cy="108.39" r="0.8"/><circle cx="477.69" cy="86.30" r="0.8"/><circle cx="477.20" cy="96.72" r="0.8"/><circle cx="472.93" cy="118.05" r="0.8"/><circle cx="471.78" cy="90.05" r="0.8"/><circle cx="473.51" cy="90.20" r="0.8"/><circle cx="475.96" cy="99.41" r="0.8"/><circle cx="476.59" cy="111.67" r="0.8"/><circle cx="470.44" cy="91.57" r="0.8"/><circle cx="472.33" cy="74.80" r="0.8"/><circle cx="470.07" cy="95.22" r="0.8"/><circle cx="478.11" cy="100.87" r="0.8"/><circle cx="471.63" cy="114.83" r="0.8"/><circle cx="472.10" cy="97.65" r="0.8"/><circle cx="475.97" cy="100.70" r="0.8"/><circle cx="473.74" cy="115.26" r="0.8"/><circle cx="474.54" cy="93.44" r="0.8"/><circle cx="478.69" cy="97.99" r="0.8"/><circle cx="474.32" cy="98.98" r="0.8"/><circle cx="476.23" cy="93.80" r="0.8"/><circle cx="473.76" cy="97.72" r="0.8"/><circle cx="479.05" cy="95.52" r="0.8"/><circle cx="476.48" cy="87.97" r="0.8"/><circle cx="473.59" cy="93.23" r="0.8"/><circle cx="469.46" cy="96.03" r="0.8"/><circle cx="472.21" cy="79.81" r="0.8"/><circle cx="474.23" cy="85.86" r="0.8"/><circle cx="475.86" cy="87.54" r="0.8"/><circle cx="478.55" cy="100.05" r="0.8"/><circle cx="478.71" cy="95.32" r="0.8"/><circle cx="472.81" cy="86.71" r="0.8"/><circle cx="476.79" cy="98.35" r="0.8"/><circle cx="476.52" cy="82.51" r="0.8"/><circle cx="473.18" cy="101.22" r="0.8"/><circle cx="475.32" cy="114.10" r="0.8"/><circle cx="470.78" cy="114.42" r="0.8"/><circle cx="473.80" cy="96.55" r="0.8"/><circle cx="475.58" cy="93.29" r="0.8"/><circle cx="475.86" cy="76.42" r="0.8"/><circle cx="476.43" cy="101.66" r="0.8"/><circle cx="476.49" cy="79.86" r="0.8"/><circle cx="471.32" cy="83.83" r="0.8"/><circle cx="471.42" cy="106.41" r="0.8"/><circle cx="475.72" cy="81.41" r="0.8"/><circle cx="477.01" cy="92.59" r="0.8"/><circle cx="470.59" cy="95.06" r="0.8"/><circle cx="472.00" cy="89.76" r="0.8"/><circle cx="474.75" cy="91.10" r="0.8"/><circle cx="478.42" cy="91.43" r="0.8"/><circle cx="469.85" cy="100.35" r="0.8"/><circle cx="476.74" cy="111.62" r="0.8"/><circle cx="475.75" cy="99.04" r="0.8"/><circle cx="475.92" cy="99.18" r="0.8"/><circle cx="472.88" cy="86.00" r="0.8"/><circle cx="469.40" cy="97.40" r="0.8"/><circle cx="470.95" cy="111.87" r="0.8"/><circle cx="476.68" cy="98.97" r="0.8"/><circle cx="476.79" cy="91.93" r="0.8"/><circle cx="476.28" cy="85.04" r="0.8"/><circle cx="477.30" cy="108.21" r="0.8"/><circle cx="473.00" cy="103.18" r="0.8"/><circle cx="473.81" cy="103.76" r="0.8"/><circle cx="474.73" cy="98.35" r="0.8"/><circle cx="478.84" cy="100.34" r="0.8"/><circle cx="473.13" cy="89.57" r="0.8"/><circle cx="474.15" cy="132.50" r="0.8"/><circle cx="474.15" cy="66.00" r="0.8"/><circle cx="474.15" cy="70.00" r="0.8"/></g>
<text transform="translate(506.2,8.8) scale(1.12,1)" x="0" y="0" font-size="12.2" font-weight="bold" stroke="#111" stroke-width="0.75" fill="#111">d</text>
<text x="527.90" y="12.70" font-size="8.2" textLength="127.90" lengthAdjust="spacingAndGlyphs" fill="#2a2a2a">Medial temporal lobe VBM change</text>
<text x="527.90" y="23.80" font-size="7" textLength="63.50" lengthAdjust="spacingAndGlyphs" class="b">(i) Group differences</text>
<text x="527.90" y="31.50" font-size="7" textLength="46.60" lengthAdjust="spacingAndGlyphs" class="b">(mean ± s.e.m.)</text>
<text transform="translate(512.70,71.95) rotate(-90)" x="0" y="0" font-size="6.3" fill="#3a3a3a" text-anchor="middle" textLength="113.30" lengthAdjust="spacingAndGlyphs">Change from baseline to 52 weeks (mm<tspan font-size="4" dy="-2.4">3</tspan><tspan dy="2.4">)</tspan></text>
<line x1="547.60" y1="40.70" x2="547.60" y2="102.75" stroke="#5a5a5a" stroke-width="0.9"/>
<line x1="545.20" y1="40.70" x2="547.60" y2="40.70" stroke="#5a5a5a" stroke-width="0.9"/>
<text x="543.00" y="42.30" font-size="5.85" text-anchor="end" class="s">0</text>
<line x1="545.20" y1="53.00" x2="547.60" y2="53.00" stroke="#5a5a5a" stroke-width="0.9"/>
<text x="543.00" y="54.60" font-size="5.85" text-anchor="end" class="s">−0.005</text>
<line x1="545.20" y1="65.30" x2="547.60" y2="65.30" stroke="#5a5a5a" stroke-width="0.9"/>
<text x="543.00" y="66.90" font-size="5.85" text-anchor="end" class="s">−0.010</text>
<line x1="545.20" y1="77.60" x2="547.60" y2="77.60" stroke="#5a5a5a" stroke-width="0.9"/>
<text x="543.00" y="79.20" font-size="5.85" text-anchor="end" class="s">−0.015</text>
<line x1="545.20" y1="90.00" x2="547.60" y2="90.00" stroke="#5a5a5a" stroke-width="0.9"/>
<text x="543.00" y="91.60" font-size="5.85" text-anchor="end" class="s">−0.020</text>
<line x1="545.20" y1="102.30" x2="547.60" y2="102.30" stroke="#5a5a5a" stroke-width="0.9"/>
<text x="543.00" y="103.90" font-size="5.85" text-anchor="end" class="s">−0.025</text>
<line x1="545.20" y1="40.70" x2="589.10" y2="40.70" stroke="#5a5a5a" stroke-width="0.9"/>
<line x1="547.60" y1="102.30" x2="589.10" y2="102.30" stroke="#5a5a5a" stroke-width="0.9"/>
<line x1="558.00" y1="102.30" x2="558.00" y2="104.60" stroke="#5a5a5a" stroke-width="0.9"/>
<line x1="578.70" y1="102.30" x2="578.70" y2="104.60" stroke="#5a5a5a" stroke-width="0.9"/>
<rect x="553.40" y="40.70" width="9.20" height="38.50" fill="none" stroke="#4468ff" stroke-width="1.05"/>
<ellipse cx="558.00" cy="79.75" rx="1.25" ry="0.85" fill="#000"/>
<rect x="574.00" y="40.70" width="9.50" height="51.00" fill="none" stroke="#fb503a" stroke-width="1.05"/>
<ellipse cx="578.75" cy="92.25" rx="1.25" ry="0.85" fill="#000"/>
<text transform="translate(561.90,110.30) rotate(-45) scale(0.0961,0.09)" x="0" y="0" font-size="67" text-anchor="end" stroke="#1e1e1e" stroke-width="1.3">Liraglutide</text>
<text transform="translate(582.60,110.30) rotate(-45) scale(0.0914,0.09)" x="0" y="0" font-size="67" text-anchor="end" stroke="#1e1e1e" stroke-width="1.3">Placebo</text>
<rect x="518.20" y="136.90" width="71.80" height="24.00" fill="none" stroke="#4f9a5c" stroke-width="1.1"/>
<text x="521.10" y="143.80" font-size="5.7" class="b">Difference, 0.0052;</text>
<text x="521.10" y="150.30" font-size="5.7" class="b">95% CI: 0.0010 to 0.0093;</text>
<text class="b" x="521.10" y="156.80" font-size="5.7"><tspan font-style="italic">P</tspan> = 0.017</text>
<text x="626.30" y="28.00" font-size="7" textLength="39.40" lengthAdjust="spacingAndGlyphs" class="b">(ii) Individual</text>
<text x="626.30" y="35.80" font-size="7" textLength="35.90" lengthAdjust="spacingAndGlyphs" class="b">data spread</text>
<text x="626.30" y="43.60" font-size="7" textLength="39.60" lengthAdjust="spacingAndGlyphs" class="b">(median, IQR</text>
<text x="626.30" y="51.40" font-size="7" textLength="37.60" lengthAdjust="spacingAndGlyphs" class="b">and 95% CI)</text>
<line x1="623.10" y1="39.10" x2="623.10" y2="135.35" stroke="#5a5a5a" stroke-width="0.9"/>
<line x1="620.70" y1="39.10" x2="623.10" y2="39.10" stroke="#5a5a5a" stroke-width="0.9"/>
<text x="618.20" y="41.00" font-size="7.2" text-anchor="end" class="b">0.04</text>
<line x1="620.70" y1="58.30" x2="623.10" y2="58.30" stroke="#5a5a5a" stroke-width="0.9"/>
<text x="618.20" y="60.20" font-size="7.2" text-anchor="end" class="b">0.02</text>
<line x1="620.70" y1="77.30" x2="623.10" y2="77.30" stroke="#5a5a5a" stroke-width="0.9"/>
<text x="618.20" y="79.20" font-size="7.2" text-anchor="end" class="b">0</text>
<line x1="620.70" y1="96.60" x2="623.10" y2="96.60" stroke="#5a5a5a" stroke-width="0.9"/>
<text x="618.20" y="98.50" font-size="7.2" text-anchor="end" class="b">−0.02</text>
<line x1="620.70" y1="115.90" x2="623.10" y2="115.90" stroke="#5a5a5a" stroke-width="0.9"/>
<text x="618.20" y="117.80" font-size="7.2" text-anchor="end" class="b">−0.04</text>
<line x1="620.70" y1="134.90" x2="623.10" y2="134.90" stroke="#5a5a5a" stroke-width="0.9"/>
<text x="618.20" y="136.80" font-size="7.2" text-anchor="end" class="b">−0.06</text>
<line x1="623.10" y1="134.90" x2="672.70" y2="134.90" stroke="#5a5a5a" stroke-width="0.9"/>
<line x1="640.50" y1="134.90" x2="640.50" y2="137.20" stroke="#5a5a5a" stroke-width="0.9"/>
<line x1="657.80" y1="134.90" x2="657.80" y2="137.20" stroke="#5a5a5a" stroke-width="0.9"/>
<text transform="translate(644.40,142.90) rotate(-45) scale(0.1068,0.1)" x="0" y="0" font-size="67" text-anchor="end" stroke="#1e1e1e" stroke-width="1.3">Liraglutide</text>
<text transform="translate(661.70,142.90) rotate(-45) scale(0.1016,0.1)" x="0" y="0" font-size="67" text-anchor="end" stroke="#1e1e1e" stroke-width="1.3">Placebo</text>
<rect x="634.90" y="85.10" width="11.30" height="15.20" fill="none" stroke="#686868" stroke-width="0.85"/>
<line x1="634.90" y1="92.70" x2="646.20" y2="92.70" stroke="#686868" stroke-width="0.85"/>
<line x1="640.55" y1="68.00" x2="640.55" y2="85.10" stroke="#686868" stroke-width="0.85"/>
<line x1="640.55" y1="100.30" x2="640.55" y2="113.50" stroke="#686868" stroke-width="0.85"/>
<line x1="637.55" y1="68.00" x2="643.55" y2="68.00" stroke="#686868" stroke-width="0.85"/>
<line x1="637.55" y1="113.50" x2="643.55" y2="113.50" stroke="#686868" stroke-width="0.85"/>
<g fill="#2d50ff"><circle cx="639.24" cy="93.77" r="0.8"/><circle cx="641.32" cy="106.78" r="0.8"/><circle cx="635.71" cy="89.78" r="0.8"/><circle cx="643.91" cy="89.75" r="0.8"/><circle cx="645.55" cy="92.22" r="0.8"/><circle cx="640.28" cy="100.92" r="0.8"/><circle cx="641.85" cy="99.33" r="0.8"/><circle cx="637.67" cy="81.73" r="0.8"/><circle cx="640.72" cy="77.69" r="0.8"/><circle cx="642.14" cy="75.70" r="0.8"/><circle cx="643.14" cy="90.76" r="0.8"/><circle cx="641.45" cy="89.09" r="0.8"/><circle cx="644.24" cy="91.80" r="0.8"/><circle cx="640.28" cy="95.38" r="0.8"/><circle cx="642.63" cy="88.19" r="0.8"/><circle cx="642.82" cy="69.99" r="0.8"/><circle cx="640.17" cy="76.71" r="0.8"/><circle cx="643.97" cy="105.11" r="0.8"/><circle cx="636.96" cy="96.39" r="0.8"/><circle cx="637.76" cy="89.18" r="0.8"/><circle cx="641.57" cy="104.48" r="0.8"/><circle cx="638.56" cy="90.10" r="0.8"/><circle cx="639.33" cy="81.59" r="0.8"/><circle cx="641.41" cy="92.19" r="0.8"/><circle cx="641.59" cy="71.64" r="0.8"/><circle cx="643.93" cy="80.38" r="0.8"/><circle cx="644.13" cy="89.51" r="0.8"/><circle cx="644.96" cy="86.78" r="0.8"/><circle cx="642.25" cy="104.78" r="0.8"/><circle cx="637.96" cy="84.46" r="0.8"/><circle cx="638.57" cy="99.92" r="0.8"/><circle cx="637.17" cy="79.88" r="0.8"/><circle cx="638.18" cy="113.44" r="0.8"/><circle cx="637.11" cy="96.32" r="0.8"/><circle cx="638.85" cy="81.70" r="0.8"/><circle cx="636.01" cy="95.40" r="0.8"/><circle cx="641.17" cy="69.98" r="0.8"/><circle cx="639.44" cy="109.93" r="0.8"/><circle cx="644.23" cy="97.70" r="0.8"/><circle cx="644.34" cy="105.97" r="0.8"/><circle cx="638.64" cy="91.08" r="0.8"/><circle cx="637.02" cy="106.20" r="0.8"/><circle cx="637.75" cy="99.79" r="0.8"/><circle cx="637.90" cy="79.74" r="0.8"/><circle cx="636.47" cy="101.16" r="0.8"/><circle cx="644.84" cy="99.29" r="0.8"/><circle cx="644.20" cy="85.48" r="0.8"/><circle cx="640.73" cy="83.70" r="0.8"/><circle cx="641.82" cy="101.39" r="0.8"/><circle cx="641.51" cy="80.80" r="0.8"/><circle cx="644.51" cy="84.54" r="0.8"/><circle cx="642.31" cy="80.74" r="0.8"/><circle cx="637.90" cy="92.17" r="0.8"/><circle cx="640.73" cy="82.89" r="0.8"/><circle cx="639.70" cy="91.07" r="0.8"/><circle cx="641.36" cy="92.19" r="0.8"/><circle cx="641.48" cy="108.16" r="0.8"/><circle cx="636.14" cy="94.66" r="0.8"/><circle cx="642.13" cy="83.90" r="0.8"/><circle cx="639.26" cy="83.64" r="0.8"/><circle cx="635.93" cy="87.77" r="0.8"/><circle cx="637.73" cy="74.93" r="0.8"/><circle cx="638.64" cy="79.71" r="0.8"/><circle cx="639.24" cy="78.16" r="0.8"/><circle cx="639.22" cy="96.79" r="0.8"/><circle cx="641.49" cy="88.55" r="0.8"/><circle cx="638.85" cy="102.69" r="0.8"/><circle cx="637.03" cy="78.81" r="0.8"/><circle cx="641.07" cy="106.22" r="0.8"/><circle cx="637.75" cy="91.80" r="0.8"/><circle cx="643.16" cy="83.04" r="0.8"/><circle cx="639.90" cy="93.22" r="0.8"/><circle cx="642.37" cy="99.94" r="0.8"/><circle cx="639.05" cy="100.67" r="0.8"/><circle cx="643.71" cy="98.63" r="0.8"/><circle cx="638.63" cy="72.17" r="0.8"/><circle cx="639.09" cy="101.06" r="0.8"/><circle cx="640.18" cy="78.96" r="0.8"/><circle cx="638.87" cy="73.72" r="0.8"/><circle cx="637.92" cy="102.73" r="0.8"/><circle cx="643.20" cy="102.23" r="0.8"/><circle cx="638.37" cy="96.49" r="0.8"/><circle cx="643.45" cy="86.60" r="0.8"/><circle cx="639.35" cy="79.88" r="0.8"/><circle cx="638.00" cy="76.81" r="0.8"/><circle cx="638.35" cy="87.48" r="0.8"/><circle cx="639.62" cy="112.03" r="0.8"/><circle cx="639.78" cy="82.51" r="0.8"/><circle cx="644.55" cy="98.56" r="0.8"/><circle cx="645.02" cy="93.31" r="0.8"/><circle cx="644.38" cy="93.60" r="0.8"/><circle cx="644.14" cy="104.69" r="0.8"/><circle cx="640.55" cy="54.70" r="0.8"/><circle cx="640.55" cy="59.00" r="0.8"/><circle cx="640.55" cy="124.40" r="0.8"/><circle cx="640.55" cy="120.00" r="0.8"/></g>
<rect x="652.50" y="90.00" width="11.30" height="14.40" fill="none" stroke="#686868" stroke-width="0.85"/>
<line x1="652.50" y1="97.20" x2="663.80" y2="97.20" stroke="#686868" stroke-width="0.85"/>
<line x1="658.15" y1="77.60" x2="658.15" y2="90.00" stroke="#686868" stroke-width="0.85"/>
<line x1="658.15" y1="104.40" x2="658.15" y2="116.40" stroke="#686868" stroke-width="0.85"/>
<line x1="655.15" y1="77.60" x2="661.15" y2="77.60" stroke="#686868" stroke-width="0.85"/>
<line x1="655.15" y1="116.40" x2="661.15" y2="116.40" stroke="#686868" stroke-width="0.85"/>
<g fill="#ff3a1e"><circle cx="662.46" cy="96.26" r="0.8"/><circle cx="661.49" cy="100.28" r="0.8"/><circle cx="659.17" cy="114.59" r="0.8"/><circle cx="656.76" cy="88.45" r="0.8"/><circle cx="655.40" cy="96.15" r="0.8"/><circle cx="656.55" cy="110.15" r="0.8"/><circle cx="661.07" cy="103.10" r="0.8"/><circle cx="659.95" cy="103.65" r="0.8"/><circle cx="661.44" cy="86.73" r="0.8"/><circle cx="660.62" cy="95.66" r="0.8"/><circle cx="654.84" cy="96.39" r="0.8"/><circle cx="658.39" cy="92.35" r="0.8"/><circle cx="657.55" cy="112.17" r="0.8"/><circle cx="656.99" cy="110.83" r="0.8"/><circle cx="655.80" cy="91.71" r="0.8"/><circle cx="660.68" cy="105.05" r="0.8"/><circle cx="656.88" cy="87.91" r="0.8"/><circle cx="661.23" cy="101.49" r="0.8"/><circle cx="655.64" cy="109.69" r="0.8"/><circle cx="661.01" cy="103.44" r="0.8"/><circle cx="659.45" cy="97.78" r="0.8"/><circle cx="661.80" cy="96.03" r="0.8"/><circle cx="656.09" cy="105.28" r="0.8"/><circle cx="658.42" cy="99.82" r="0.8"/><circle cx="660.41" cy="86.51" r="0.8"/><circle cx="653.42" cy="102.82" r="0.8"/><circle cx="654.56" cy="102.43" r="0.8"/><circle cx="653.82" cy="99.08" r="0.8"/><circle cx="654.06" cy="93.88" r="0.8"/><circle cx="656.56" cy="87.90" r="0.8"/><circle cx="656.65" cy="97.08" r="0.8"/><circle cx="656.93" cy="88.64" r="0.8"/><circle cx="655.69" cy="85.89" r="0.8"/><circle cx="658.70" cy="94.59" r="0.8"/><circle cx="660.23" cy="102.03" r="0.8"/><circle cx="654.97" cy="94.02" r="0.8"/><circle cx="656.89" cy="100.18" r="0.8"/><circle cx="657.32" cy="82.42" r="0.8"/><circle cx="660.55" cy="85.82" r="0.8"/><circle cx="657.02" cy="89.07" r="0.8"/><circle cx="658.12" cy="89.28" r="0.8"/><circle cx="660.07" cy="93.95" r="0.8"/><circle cx="657.83" cy="86.53" r="0.8"/><circle cx="660.12" cy="97.61" r="0.8"/><circle cx="654.97" cy="110.42" r="0.8"/><circle cx="661.32" cy="87.18" r="0.8"/><circle cx="662.33" cy="102.31" r="0.8"/><circle cx="660.07" cy="81.15" r="0.8"/><circle cx="656.59" cy="113.40" r="0.8"/><circle cx="661.14" cy="91.87" r="0.8"/><circle cx="659.78" cy="98.42" r="0.8"/><circle cx="659.34" cy="111.58" r="0.8"/><circle cx="659.95" cy="84.89" r="0.8"/><circle cx="659.00" cy="92.61" r="0.8"/><circle cx="653.19" cy="95.26" r="0.8"/><circle cx="654.53" cy="108.62" r="0.8"/><circle cx="655.27" cy="111.65" r="0.8"/><circle cx="656.18" cy="115.06" r="0.8"/><circle cx="654.57" cy="110.05" r="0.8"/><circle cx="661.56" cy="100.15" r="0.8"/><circle cx="659.83" cy="92.65" r="0.8"/><circle cx="658.73" cy="110.78" r="0.8"/><circle cx="660.85" cy="98.07" r="0.8"/><circle cx="658.26" cy="94.43" r="0.8"/><circle cx="660.66" cy="96.10" r="0.8"/><circle cx="662.33" cy="92.25" r="0.8"/><circle cx="658.71" cy="105.96" r="0.8"/><circle cx="661.38" cy="100.74" r="0.8"/><circle cx="655.63" cy="97.53" r="0.8"/><circle cx="659.22" cy="103.91" r="0.8"/><circle cx="656.81" cy="97.44" r="0.8"/><circle cx="657.31" cy="86.52" r="0.8"/><circle cx="654.28" cy="90.65" r="0.8"/><circle cx="658.15" cy="106.18" r="0.8"/><circle cx="660.16" cy="108.06" r="0.8"/><circle cx="654.75" cy="95.34" r="0.8"/><circle cx="659.77" cy="90.69" r="0.8"/><circle cx="658.26" cy="80.49" r="0.8"/><circle cx="660.87" cy="81.96" r="0.8"/><circle cx="654.63" cy="98.76" r="0.8"/><circle cx="661.07" cy="111.81" r="0.8"/><circle cx="658.29" cy="107.24" r="0.8"/><circle cx="656.06" cy="81.27" r="0.8"/><circle cx="655.96" cy="103.16" r="0.8"/><circle cx="656.35" cy="101.65" r="0.8"/><circle cx="656.18" cy="110.65" r="0.8"/><circle cx="656.42" cy="87.64" r="0.8"/><circle cx="661.66" cy="94.15" r="0.8"/><circle cx="658.84" cy="86.61" r="0.8"/><circle cx="653.34" cy="96.39" r="0.8"/><circle cx="657.96" cy="104.63" r="0.8"/><circle cx="656.81" cy="92.34" r="0.8"/><circle cx="658.15" cy="66.80" r="0.8"/><circle cx="658.15" cy="70.00" r="0.8"/><circle cx="658.15" cy="125.00" r="0.8"/><circle cx="658.15" cy="121.00" r="0.8"/></g>
<text transform="translate(0.8,189.0) scale(1.12,1)" x="0" y="0" font-size="12.2" font-weight="bold" stroke="#111" stroke-width="0.75" fill="#111">e</text>
<text x="31.90" y="191.50" font-size="8.2" textLength="94.30" lengthAdjust="spacingAndGlyphs" fill="#2a2a2a">Parietal lobe VBM change</text>
<text x="28.80" y="214.40" font-size="7" textLength="63.50" lengthAdjust="spacingAndGlyphs" class="b">(i) Group differences</text>
<text x="28.80" y="222.10" font-size="7" textLength="46.60" lengthAdjust="spacingAndGlyphs" class="b">(mean ± s.e.m.)</text>
<text transform="translate(6.70,262.15) rotate(-90)" x="0" y="0" font-size="6.3" fill="#3a3a3a" text-anchor="middle" textLength="114.30" lengthAdjust="spacingAndGlyphs">Change from baseline to 52 weeks (mm<tspan font-size="4" dy="-2.4">3</tspan><tspan dy="2.4">)</tspan></text>
<line x1="42.40" y1="231.40" x2="42.40" y2="293.85" stroke="#5a5a5a" stroke-width="0.9"/>
<line x1="40.00" y1="231.40" x2="42.40" y2="231.40" stroke="#5a5a5a" stroke-width="0.9"/>
<text x="37.90" y="233.00" font-size="5.85" text-anchor="end" class="s">0</text>
<line x1="40.00" y1="246.90" x2="42.40" y2="246.90" stroke="#5a5a5a" stroke-width="0.9"/>
<text x="37.90" y="248.50" font-size="5.85" text-anchor="end" class="s">−0.002</text>
<line x1="40.00" y1="262.40" x2="42.40" y2="262.40" stroke="#5a5a5a" stroke-width="0.9"/>
<text x="37.90" y="264.00" font-size="5.85" text-anchor="end" class="s">−0.004</text>
<line x1="40.00" y1="277.90" x2="42.40" y2="277.90" stroke="#5a5a5a" stroke-width="0.9"/>
<text x="37.90" y="279.50" font-size="5.85" text-anchor="end" class="s">−0.006</text>
<line x1="40.00" y1="293.40" x2="42.40" y2="293.40" stroke="#5a5a5a" stroke-width="0.9"/>
<text x="37.90" y="295.00" font-size="5.85" text-anchor="end" class="s">−0.008</text>
<line x1="40.00" y1="231.40" x2="83.90" y2="231.40" stroke="#5a5a5a" stroke-width="0.9"/>
<line x1="42.40" y1="293.40" x2="83.90" y2="293.40" stroke="#5a5a5a" stroke-width="0.9"/>
<line x1="53.20" y1="293.40" x2="53.20" y2="295.70" stroke="#5a5a5a" stroke-width="0.9"/>
<line x1="73.80" y1="293.40" x2="73.80" y2="295.70" stroke="#5a5a5a" stroke-width="0.9"/>
<rect x="48.40" y="231.40" width="9.40" height="45.00" fill="none" stroke="#4468ff" stroke-width="1.05"/>
<line x1="53.10" y1="272.30" x2="53.10" y2="280.50" stroke="#4468ff" stroke-width="0.8"/>
<line x1="50.30" y1="272.30" x2="55.90" y2="272.30" stroke="#4468ff" stroke-width="0.8"/>
<line x1="50.30" y1="280.50" x2="55.90" y2="280.50" stroke="#4468ff" stroke-width="0.8"/>
<ellipse cx="53.10" cy="276.95" rx="1.25" ry="0.85" fill="#000"/>
<rect x="69.10" y="231.40" width="9.30" height="59.40" fill="none" stroke="#fb503a" stroke-width="1.05"/>
<ellipse cx="73.75" cy="291.35" rx="1.25" ry="0.85" fill="#000"/>
<text transform="translate(57.10,301.40) rotate(-45) scale(0.0961,0.09)" x="0" y="0" font-size="67" text-anchor="end" stroke="#1e1e1e" stroke-width="1.3">Liraglutide</text>
<text transform="translate(77.70,301.40) rotate(-45) scale(0.0914,0.09)" x="0" y="0" font-size="67" text-anchor="end" stroke="#1e1e1e" stroke-width="1.3">Placebo</text>
<rect x="13.60" y="326.50" width="74.20" height="23.80" fill="none" stroke="#4f9a5c" stroke-width="1.1"/>
<text x="16.50" y="333.40" font-size="5.7" class="b">Difference, 0.0026;</text>
<text x="16.50" y="339.90" font-size="5.7" class="b">95% CI: 0.00006 to 0.0052;</text>
<text class="b" x="16.50" y="346.40" font-size="5.7"><tspan font-style="italic">P</tspan> = 0.047</text>
<text x="121.50" y="211.00" font-size="7" textLength="39.40" lengthAdjust="spacingAndGlyphs" class="b">(ii) Individual</text>
<text x="121.50" y="218.80" font-size="7" textLength="35.90" lengthAdjust="spacingAndGlyphs" class="b">data spread</text>
<text x="121.50" y="226.60" font-size="7" textLength="39.60" lengthAdjust="spacingAndGlyphs" class="b">(median, IQR</text>
<text x="121.50" y="234.40" font-size="7" textLength="37.60" lengthAdjust="spacingAndGlyphs" class="b">and 95% CI)</text>
<line x1="115.40" y1="226.60" x2="115.40" y2="323.05" stroke="#5a5a5a" stroke-width="0.9"/>
<line x1="113.00" y1="226.60" x2="115.40" y2="226.60" stroke="#5a5a5a" stroke-width="0.9"/>
<text x="110.30" y="228.50" font-size="7.2" text-anchor="end" class="b">0.04</text>
<line x1="113.00" y1="250.60" x2="115.40" y2="250.60" stroke="#5a5a5a" stroke-width="0.9"/>
<text x="110.30" y="252.50" font-size="7.2" text-anchor="end" class="b">0.02</text>
<line x1="113.00" y1="274.40" x2="115.40" y2="274.40" stroke="#5a5a5a" stroke-width="0.9"/>
<text x="110.30" y="276.30" font-size="7.2" text-anchor="end" class="b">0</text>
<line x1="113.00" y1="298.40" x2="115.40" y2="298.40" stroke="#5a5a5a" stroke-width="0.9"/>
<text x="110.30" y="300.30" font-size="7.2" text-anchor="end" class="b">−0.02</text>
<line x1="113.00" y1="322.60" x2="115.40" y2="322.60" stroke="#5a5a5a" stroke-width="0.9"/>
<text x="110.30" y="324.50" font-size="7.2" text-anchor="end" class="b">−0.04</text>
<line x1="115.40" y1="322.60" x2="165.70" y2="322.60" stroke="#5a5a5a" stroke-width="0.9"/>
<line x1="132.70" y1="322.60" x2="132.70" y2="324.90" stroke="#5a5a5a" stroke-width="0.9"/>
<line x1="150.50" y1="322.60" x2="150.50" y2="324.90" stroke="#5a5a5a" stroke-width="0.9"/>
<text transform="translate(136.60,330.60) rotate(-45) scale(0.1068,0.1)" x="0" y="0" font-size="67" text-anchor="end" stroke="#1e1e1e" stroke-width="1.3">Liraglutide</text>
<text transform="translate(154.40,330.60) rotate(-45) scale(0.1016,0.1)" x="0" y="0" font-size="67" text-anchor="end" stroke="#1e1e1e" stroke-width="1.3">Placebo</text>
<rect x="127.10" y="276.40" width="11.40" height="10.10" fill="none" stroke="#686868" stroke-width="0.85"/>
<line x1="127.10" y1="281.45" x2="138.50" y2="281.45" stroke="#686868" stroke-width="0.85"/>
<line x1="132.80" y1="266.70" x2="132.80" y2="276.40" stroke="#686868" stroke-width="0.85"/>
<line x1="132.80" y1="286.50" x2="132.80" y2="293.20" stroke="#686868" stroke-width="0.85"/>
<line x1="129.80" y1="266.70" x2="135.80" y2="266.70" stroke="#686868" stroke-width="0.85"/>
<line x1="129.80" y1="293.20" x2="135.80" y2="293.20" stroke="#686868" stroke-width="0.85"/>
<g fill="#2d50ff"><circle cx="131.74" cy="281.76" r="0.8"/><circle cx="129.45" cy="284.93" r="0.8"/><circle cx="136.34" cy="288.38" r="0.8"/><circle cx="135.75" cy="284.53" r="0.8"/><circle cx="133.17" cy="281.95" r="0.8"/><circle cx="130.76" cy="276.17" r="0.8"/><circle cx="129.92" cy="283.11" r="0.8"/><circle cx="136.99" cy="284.59" r="0.8"/><circle cx="135.41" cy="287.91" r="0.8"/><circle cx="130.83" cy="269.51" r="0.8"/><circle cx="135.03" cy="277.59" r="0.8"/><circle cx="135.38" cy="291.23" r="0.8"/><circle cx="133.86" cy="283.78" r="0.8"/><circle cx="134.52" cy="279.27" r="0.8"/><circle cx="132.55" cy="276.77" r="0.8"/><circle cx="128.61" cy="281.27" r="0.8"/><circle cx="133.22" cy="275.46" r="0.8"/><circle cx="133.47" cy="276.36" r="0.8"/><circle cx="132.86" cy="292.19" r="0.8"/><circle cx="132.17" cy="271.66" r="0.8"/><circle cx="129.86" cy="274.99" r="0.8"/><circle cx="130.98" cy="276.82" r="0.8"/><circle cx="128.19" cy="282.30" r="0.8"/><circle cx="134.07" cy="279.39" r="0.8"/><circle cx="132.51" cy="279.69" r="0.8"/><circle cx="131.61" cy="290.54" r="0.8"/><circle cx="131.99" cy="286.39" r="0.8"/><circle cx="129.77" cy="281.37" r="0.8"/><circle cx="131.42" cy="277.40" r="0.8"/><circle cx="135.13" cy="276.99" r="0.8"/><circle cx="136.65" cy="277.34" r="0.8"/><circle cx="129.71" cy="290.10" r="0.8"/><circle cx="135.25" cy="286.45" r="0.8"/><circle cx="133.96" cy="283.49" r="0.8"/><circle cx="129.51" cy="281.98" r="0.8"/><circle cx="132.45" cy="288.14" r="0.8"/><circle cx="135.46" cy="292.61" r="0.8"/><circle cx="137.26" cy="284.53" r="0.8"/><circle cx="127.95" cy="279.65" r="0.8"/><circle cx="135.37" cy="276.73" r="0.8"/><circle cx="133.69" cy="291.02" r="0.8"/><circle cx="129.74" cy="284.03" r="0.8"/><circle cx="132.30" cy="275.77" r="0.8"/><circle cx="137.10" cy="286.25" r="0.8"/><circle cx="131.28" cy="287.00" r="0.8"/><circle cx="129.50" cy="283.71" r="0.8"/><circle cx="135.69" cy="281.58" r="0.8"/><circle cx="128.95" cy="277.42" r="0.8"/><circle cx="137.30" cy="286.16" r="0.8"/><circle cx="128.66" cy="276.91" r="0.8"/><circle cx="128.37" cy="283.80" r="0.8"/><circle cx="129.63" cy="286.95" r="0.8"/><circle cx="129.47" cy="291.27" r="0.8"/><circle cx="137.27" cy="275.79" r="0.8"/><circle cx="128.95" cy="281.78" r="0.8"/><circle cx="132.24" cy="268.76" r="0.8"/><circle cx="137.66" cy="279.09" r="0.8"/><circle cx="131.99" cy="275.93" r="0.8"/><circle cx="128.09" cy="282.23" r="0.8"/><circle cx="136.40" cy="276.47" r="0.8"/><circle cx="136.08" cy="284.14" r="0.8"/><circle cx="130.33" cy="279.55" r="0.8"/><circle cx="130.17" cy="281.47" r="0.8"/><circle cx="136.54" cy="282.86" r="0.8"/><circle cx="129.52" cy="286.70" r="0.8"/><circle cx="133.39" cy="286.89" r="0.8"/><circle cx="136.09" cy="289.04" r="0.8"/><circle cx="134.37" cy="281.00" r="0.8"/><circle cx="132.74" cy="284.59" r="0.8"/><circle cx="130.19" cy="269.48" r="0.8"/><circle cx="136.66" cy="285.15" r="0.8"/><circle cx="134.19" cy="287.49" r="0.8"/><circle cx="135.74" cy="278.35" r="0.8"/><circle cx="133.02" cy="272.85" r="0.8"/><circle cx="133.87" cy="270.72" r="0.8"/><circle cx="137.02" cy="279.13" r="0.8"/><circle cx="136.94" cy="276.00" r="0.8"/><circle cx="136.31" cy="290.43" r="0.8"/><circle cx="136.85" cy="280.34" r="0.8"/><circle cx="129.06" cy="279.48" r="0.8"/><circle cx="129.80" cy="292.34" r="0.8"/><circle cx="129.47" cy="279.27" r="0.8"/><circle cx="134.94" cy="275.03" r="0.8"/><circle cx="136.36" cy="274.15" r="0.8"/><circle cx="137.11" cy="281.57" r="0.8"/><circle cx="127.84" cy="282.04" r="0.8"/><circle cx="135.87" cy="284.10" r="0.8"/><circle cx="135.61" cy="278.85" r="0.8"/><circle cx="136.03" cy="288.27" r="0.8"/><circle cx="130.23" cy="274.88" r="0.8"/><circle cx="136.63" cy="278.27" r="0.8"/><circle cx="135.23" cy="275.54" r="0.8"/><circle cx="132.80" cy="247.80" r="0.8"/><circle cx="132.80" cy="261.00" r="0.8"/><circle cx="132.80" cy="265.60" r="0.8"/><circle cx="132.80" cy="296.00" r="0.8"/></g>
<rect x="145.20" y="280.50" width="11.60" height="11.30" fill="none" stroke="#686868" stroke-width="0.85"/>
<line x1="145.20" y1="286.15" x2="156.80" y2="286.15" stroke="#686868" stroke-width="0.85"/>
<line x1="151.00" y1="268.40" x2="151.00" y2="280.50" stroke="#686868" stroke-width="0.85"/>
<line x1="151.00" y1="291.80" x2="151.00" y2="299.70" stroke="#686868" stroke-width="0.85"/>
<line x1="148.00" y1="268.40" x2="154.00" y2="268.40" stroke="#686868" stroke-width="0.85"/>
<line x1="148.00" y1="299.70" x2="154.00" y2="299.70" stroke="#686868" stroke-width="0.85"/>
<g fill="#ff3a1e"><circle cx="147.33" cy="276.07" r="0.8"/><circle cx="146.21" cy="287.97" r="0.8"/><circle cx="154.11" cy="278.11" r="0.8"/><circle cx="152.02" cy="280.72" r="0.8"/><circle cx="153.56" cy="291.26" r="0.8"/><circle cx="151.21" cy="292.24" r="0.8"/><circle cx="154.39" cy="287.21" r="0.8"/><circle cx="150.03" cy="295.17" r="0.8"/><circle cx="153.73" cy="291.50" r="0.8"/><circle cx="150.86" cy="283.86" r="0.8"/><circle cx="155.38" cy="291.82" r="0.8"/><circle cx="152.21" cy="289.56" r="0.8"/><circle cx="154.94" cy="288.47" r="0.8"/><circle cx="153.94" cy="277.24" r="0.8"/><circle cx="153.87" cy="285.45" r="0.8"/><circle cx="148.29" cy="293.21" r="0.8"/><circle cx="150.26" cy="281.01" r="0.8"/><circle cx="154.86" cy="287.67" r="0.8"/><circle cx="147.88" cy="281.31" r="0.8"/><circle cx="149.49" cy="291.93" r="0.8"/><circle cx="151.36" cy="294.04" r="0.8"/><circle cx="147.32" cy="297.02" r="0.8"/><circle cx="149.35" cy="278.67" r="0.8"/><circle cx="152.74" cy="276.86" r="0.8"/><circle cx="150.84" cy="283.45" r="0.8"/><circle cx="154.27" cy="291.74" r="0.8"/><circle cx="149.55" cy="289.03" r="0.8"/><circle cx="152.29" cy="288.70" r="0.8"/><circle cx="149.21" cy="281.05" r="0.8"/><circle cx="154.16" cy="275.86" r="0.8"/><circle cx="149.97" cy="268.10" r="0.8"/><circle cx="154.65" cy="289.94" r="0.8"/><circle cx="150.41" cy="288.80" r="0.8"/><circle cx="148.37" cy="274.92" r="0.8"/><circle cx="152.68" cy="287.20" r="0.8"/><circle cx="147.84" cy="278.28" r="0.8"/><circle cx="154.05" cy="290.21" r="0.8"/><circle cx="147.71" cy="288.47" r="0.8"/><circle cx="151.69" cy="292.74" r="0.8"/><circle cx="149.55" cy="281.48" r="0.8"/><circle cx="150.01" cy="283.46" r="0.8"/><circle cx="155.44" cy="283.60" r="0.8"/><circle cx="149.35" cy="291.37" r="0.8"/><circle cx="149.53" cy="297.19" r="0.8"/><circle cx="155.63" cy="287.82" r="0.8"/><circle cx="154.43" cy="286.39" r="0.8"/><circle cx="155.38" cy="290.95" r="0.8"/><circle cx="148.88" cy="271.73" r="0.8"/><circle cx="151.62" cy="277.69" r="0.8"/><circle cx="155.21" cy="281.21" r="0.8"/><circle cx="147.04" cy="287.57" r="0.8"/><circle cx="153.16" cy="278.86" r="0.8"/><circle cx="151.91" cy="275.91" r="0.8"/><circle cx="155.28" cy="289.63" r="0.8"/><circle cx="150.14" cy="279.94" r="0.8"/><circle cx="152.26" cy="271.64" r="0.8"/><circle cx="149.55" cy="275.74" r="0.8"/><circle cx="152.32" cy="287.07" r="0.8"/><circle cx="155.36" cy="293.54" r="0.8"/><circle cx="150.11" cy="292.97" r="0.8"/><circle cx="154.05" cy="281.13" r="0.8"/><circle cx="145.99" cy="284.33" r="0.8"/><circle cx="148.35" cy="294.58" r="0.8"/><circle cx="151.79" cy="273.68" r="0.8"/><circle cx="149.64" cy="282.93" r="0.8"/><circle cx="148.48" cy="297.31" r="0.8"/><circle cx="146.68" cy="282.61" r="0.8"/><circle cx="155.14" cy="282.07" r="0.8"/><circle cx="147.17" cy="280.39" r="0.8"/><circle cx="148.63" cy="281.75" r="0.8"/><circle cx="154.94" cy="289.50" r="0.8"/><circle cx="148.29" cy="286.98" r="0.8"/><circle cx="149.05" cy="281.47" r="0.8"/><circle cx="153.81" cy="290.89" r="0.8"/><circle cx="152.86" cy="284.54" r="0.8"/><circle cx="148.81" cy="279.96" r="0.8"/><circle cx="147.11" cy="281.30" r="0.8"/><circle cx="146.14" cy="285.40" r="0.8"/><circle cx="146.48" cy="284.42" r="0.8"/><circle cx="155.88" cy="290.05" r="0.8"/><circle cx="152.98" cy="281.87" r="0.8"/><circle cx="155.68" cy="284.72" r="0.8"/><circle cx="153.64" cy="274.01" r="0.8"/><circle cx="152.99" cy="284.10" r="0.8"/><circle cx="152.69" cy="275.61" r="0.8"/><circle cx="148.22" cy="276.78" r="0.8"/><circle cx="154.46" cy="282.95" r="0.8"/><circle cx="147.66" cy="283.03" r="0.8"/><circle cx="154.90" cy="286.46" r="0.8"/><circle cx="152.89" cy="285.83" r="0.8"/><circle cx="154.05" cy="294.49" r="0.8"/><circle cx="150.24" cy="282.23" r="0.8"/><circle cx="151.00" cy="239.00" r="0.8"/><circle cx="151.00" cy="255.00" r="0.8"/><circle cx="151.00" cy="262.50" r="0.8"/><circle cx="151.00" cy="302.90" r="0.8"/></g>
<text transform="translate(175.8,189.0) scale(1.12,1)" x="0" y="0" font-size="12.2" font-weight="bold" stroke="#111" stroke-width="0.75" fill="#111">f</text>
<text x="206.30" y="191.50" font-size="8.2" textLength="101.80" lengthAdjust="spacingAndGlyphs" fill="#2a2a2a">Temporal lobe VBM change</text>
<text x="205.80" y="212.80" font-size="7" textLength="63.50" lengthAdjust="spacingAndGlyphs" class="b">(i) Group differences</text>
<text x="205.80" y="220.50" font-size="7" textLength="46.60" lengthAdjust="spacingAndGlyphs" class="b">(mean ± s.e.m.)</text>
<text transform="translate(182.10,262.60) rotate(-90)" x="0" y="0" font-size="6.3" fill="#3a3a3a" text-anchor="middle" textLength="114.20" lengthAdjust="spacingAndGlyphs">Change from baseline to 52 weeks (mm<tspan font-size="4" dy="-2.4">3</tspan><tspan dy="2.4">)</tspan></text>
<line x1="217.40" y1="231.40" x2="217.40" y2="293.95" stroke="#5a5a5a" stroke-width="0.9"/>
<line x1="215.00" y1="231.40" x2="217.40" y2="231.40" stroke="#5a5a5a" stroke-width="0.9"/>
<text x="212.10" y="233.00" font-size="5.85" text-anchor="end" class="s">0</text>
<line x1="215.00" y1="252.10" x2="217.40" y2="252.10" stroke="#5a5a5a" stroke-width="0.9"/>
<text x="212.10" y="253.70" font-size="5.85" text-anchor="end" class="s">−0.005</text>
<line x1="215.00" y1="272.80" x2="217.40" y2="272.80" stroke="#5a5a5a" stroke-width="0.9"/>
<text x="212.10" y="274.40" font-size="5.85" text-anchor="end" class="s">−0.010</text>
<line x1="215.00" y1="293.50" x2="217.40" y2="293.50" stroke="#5a5a5a" stroke-width="0.9"/>
<text x="212.10" y="295.10" font-size="5.85" text-anchor="end" class="s">−0.015</text>
<line x1="215.00" y1="231.40" x2="258.70" y2="231.40" stroke="#5a5a5a" stroke-width="0.9"/>
<line x1="217.40" y1="293.50" x2="258.70" y2="293.50" stroke="#5a5a5a" stroke-width="0.9"/>
<line x1="227.50" y1="293.50" x2="227.50" y2="295.80" stroke="#5a5a5a" stroke-width="0.9"/>
<line x1="248.40" y1="293.50" x2="248.40" y2="295.80" stroke="#5a5a5a" stroke-width="0.9"/>
<rect x="222.80" y="231.40" width="9.60" height="46.70" fill="none" stroke="#4468ff" stroke-width="1.05"/>
<ellipse cx="227.60" cy="278.65" rx="1.25" ry="0.85" fill="#000"/>
<rect x="243.50" y="231.40" width="9.60" height="60.40" fill="none" stroke="#fb503a" stroke-width="1.05"/>
<ellipse cx="248.30" cy="292.35" rx="1.25" ry="0.85" fill="#000"/>
<text transform="translate(231.40,301.50) rotate(-45) scale(0.0961,0.09)" x="0" y="0" font-size="67" text-anchor="end" stroke="#1e1e1e" stroke-width="1.3">Liraglutide</text>
<text transform="translate(252.30,301.50) rotate(-45) scale(0.0914,0.09)" x="0" y="0" font-size="67" text-anchor="end" stroke="#1e1e1e" stroke-width="1.3">Placebo</text>
<rect x="190.80" y="326.40" width="71.60" height="23.90" fill="none" stroke="#4f9a5c" stroke-width="1.1"/>
<text x="193.70" y="333.30" font-size="5.7" class="b">Difference, 0.0039;</text>
<text x="193.70" y="339.80" font-size="5.7" class="b">95% CI: 0.0008 to 0.0070;</text>
<text class="b" x="193.70" y="346.30" font-size="5.7"><tspan font-style="italic">P</tspan> = 0.014</text>
<text x="293.50" y="204.00" font-size="7" textLength="39.40" lengthAdjust="spacingAndGlyphs" class="b">(ii) Individual</text>
<text x="293.50" y="211.70" font-size="7" textLength="35.90" lengthAdjust="spacingAndGlyphs" class="b">data spread</text>
<text x="293.50" y="219.40" font-size="7" textLength="39.60" lengthAdjust="spacingAndGlyphs" class="b">(median, IQR</text>
<text x="293.50" y="227.10" font-size="7" textLength="37.60" lengthAdjust="spacingAndGlyphs" class="b">and 95% CI)</text>
<line x1="290.90" y1="226.60" x2="290.90" y2="323.55" stroke="#5a5a5a" stroke-width="0.9"/>
<line x1="288.50" y1="226.60" x2="290.90" y2="226.60" stroke="#5a5a5a" stroke-width="0.9"/>
<text x="286.10" y="228.50" font-size="7.2" text-anchor="end" class="b">0.02</text>
<line x1="288.50" y1="250.50" x2="290.90" y2="250.50" stroke="#5a5a5a" stroke-width="0.9"/>
<text x="286.10" y="252.40" font-size="7.2" text-anchor="end" class="b">0</text>
<line x1="288.50" y1="274.70" x2="290.90" y2="274.70" stroke="#5a5a5a" stroke-width="0.9"/>
<text x="286.10" y="276.60" font-size="7.2" text-anchor="end" class="b">−0.02</text>
<line x1="288.50" y1="298.80" x2="290.90" y2="298.80" stroke="#5a5a5a" stroke-width="0.9"/>
<text x="286.10" y="300.70" font-size="7.2" text-anchor="end" class="b">−0.04</text>
<line x1="288.50" y1="323.10" x2="290.90" y2="323.10" stroke="#5a5a5a" stroke-width="0.9"/>
<text x="286.10" y="325.00" font-size="7.2" text-anchor="end" class="b">−0.06</text>
<line x1="290.90" y1="323.10" x2="340.00" y2="323.10" stroke="#5a5a5a" stroke-width="0.9"/>
<line x1="308.50" y1="323.10" x2="308.50" y2="325.40" stroke="#5a5a5a" stroke-width="0.9"/>
<line x1="326.00" y1="323.10" x2="326.00" y2="325.40" stroke="#5a5a5a" stroke-width="0.9"/>
<text transform="translate(312.40,331.10) rotate(-45) scale(0.1068,0.1)" x="0" y="0" font-size="67" text-anchor="end" stroke="#1e1e1e" stroke-width="1.3">Liraglutide</text>
<text transform="translate(329.90,331.10) rotate(-45) scale(0.1016,0.1)" x="0" y="0" font-size="67" text-anchor="end" stroke="#1e1e1e" stroke-width="1.3">Placebo</text>
<rect x="303.00" y="256.30" width="11.20" height="14.50" fill="none" stroke="#686868" stroke-width="0.85"/>
<line x1="303.00" y1="263.55" x2="314.20" y2="263.55" stroke="#686868" stroke-width="0.85"/>
<line x1="308.60" y1="243.90" x2="308.60" y2="256.30" stroke="#686868" stroke-width="0.85"/>
<line x1="308.60" y1="270.80" x2="308.60" y2="282.90" stroke="#686868" stroke-width="0.85"/>
<line x1="305.60" y1="243.90" x2="311.60" y2="243.90" stroke="#686868" stroke-width="0.85"/>
<line x1="305.60" y1="282.90" x2="311.60" y2="282.90" stroke="#686868" stroke-width="0.85"/>
<g fill="#2d50ff"><circle cx="310.82" cy="250.88" r="0.8"/><circle cx="311.97" cy="251.21" r="0.8"/><circle cx="303.91" cy="262.01" r="0.8"/><circle cx="310.00" cy="269.07" r="0.8"/><circle cx="308.30" cy="267.83" r="0.8"/><circle cx="306.11" cy="260.48" r="0.8"/><circle cx="305.05" cy="250.04" r="0.8"/><circle cx="305.85" cy="259.74" r="0.8"/><circle cx="311.16" cy="259.14" r="0.8"/><circle cx="305.63" cy="273.88" r="0.8"/><circle cx="309.37" cy="279.73" r="0.8"/><circle cx="312.31" cy="264.00" r="0.8"/><circle cx="305.70" cy="264.01" r="0.8"/><circle cx="312.02" cy="270.13" r="0.8"/><circle cx="308.96" cy="256.84" r="0.8"/><circle cx="312.92" cy="260.36" r="0.8"/><circle cx="310.35" cy="257.01" r="0.8"/><circle cx="306.68" cy="258.80" r="0.8"/><circle cx="305.18" cy="259.39" r="0.8"/><circle cx="304.46" cy="268.51" r="0.8"/><circle cx="303.84" cy="258.92" r="0.8"/><circle cx="309.88" cy="277.41" r="0.8"/><circle cx="311.64" cy="258.69" r="0.8"/><circle cx="308.43" cy="271.43" r="0.8"/><circle cx="310.55" cy="258.60" r="0.8"/><circle cx="305.09" cy="274.83" r="0.8"/><circle cx="311.07" cy="265.83" r="0.8"/><circle cx="312.05" cy="263.19" r="0.8"/><circle cx="307.81" cy="282.35" r="0.8"/><circle cx="309.38" cy="265.69" r="0.8"/><circle cx="305.48" cy="266.87" r="0.8"/><circle cx="313.15" cy="263.74" r="0.8"/><circle cx="312.61" cy="269.50" r="0.8"/><circle cx="311.40" cy="280.59" r="0.8"/><circle cx="308.83" cy="257.93" r="0.8"/><circle cx="311.01" cy="271.89" r="0.8"/><circle cx="310.73" cy="277.45" r="0.8"/><circle cx="311.46" cy="274.76" r="0.8"/><circle cx="304.78" cy="269.47" r="0.8"/><circle cx="312.30" cy="255.58" r="0.8"/><circle cx="307.38" cy="275.98" r="0.8"/><circle cx="307.15" cy="275.54" r="0.8"/><circle cx="306.90" cy="257.36" r="0.8"/><circle cx="305.11" cy="265.46" r="0.8"/><circle cx="310.44" cy="267.44" r="0.8"/><circle cx="304.43" cy="269.93" r="0.8"/><circle cx="313.47" cy="263.42" r="0.8"/><circle cx="306.47" cy="252.82" r="0.8"/><circle cx="309.53" cy="261.26" r="0.8"/><circle cx="307.86" cy="269.02" r="0.8"/><circle cx="304.98" cy="253.03" r="0.8"/><circle cx="308.54" cy="265.95" r="0.8"/><circle cx="311.97" cy="262.15" r="0.8"/><circle cx="312.09" cy="275.44" r="0.8"/><circle cx="309.58" cy="276.30" r="0.8"/><circle cx="307.95" cy="264.76" r="0.8"/><circle cx="305.26" cy="258.59" r="0.8"/><circle cx="308.15" cy="268.59" r="0.8"/><circle cx="313.09" cy="256.11" r="0.8"/><circle cx="308.31" cy="281.14" r="0.8"/><circle cx="308.47" cy="246.22" r="0.8"/><circle cx="306.52" cy="264.84" r="0.8"/><circle cx="307.43" cy="258.57" r="0.8"/><circle cx="313.37" cy="266.99" r="0.8"/><circle cx="308.60" cy="278.17" r="0.8"/><circle cx="307.03" cy="259.78" r="0.8"/><circle cx="311.15" cy="270.81" r="0.8"/><circle cx="312.13" cy="268.10" r="0.8"/><circle cx="310.71" cy="251.40" r="0.8"/><circle cx="309.97" cy="277.99" r="0.8"/><circle cx="307.44" cy="254.21" r="0.8"/><circle cx="309.97" cy="247.98" r="0.8"/><circle cx="311.27" cy="261.16" r="0.8"/><circle cx="310.07" cy="275.71" r="0.8"/><circle cx="309.96" cy="256.49" r="0.8"/><circle cx="309.07" cy="262.12" r="0.8"/><circle cx="306.11" cy="262.75" r="0.8"/><circle cx="311.57" cy="257.88" r="0.8"/><circle cx="309.80" cy="252.99" r="0.8"/><circle cx="310.02" cy="266.48" r="0.8"/><circle cx="310.61" cy="254.05" r="0.8"/><circle cx="311.88" cy="268.26" r="0.8"/><circle cx="311.79" cy="254.75" r="0.8"/><circle cx="312.25" cy="252.45" r="0.8"/><circle cx="306.13" cy="250.44" r="0.8"/><circle cx="311.95" cy="262.05" r="0.8"/><circle cx="310.12" cy="274.86" r="0.8"/><circle cx="310.70" cy="258.86" r="0.8"/><circle cx="311.40" cy="262.74" r="0.8"/><circle cx="309.34" cy="257.00" r="0.8"/><circle cx="309.76" cy="257.87" r="0.8"/><circle cx="310.90" cy="253.86" r="0.8"/><circle cx="308.60" cy="229.50" r="0.8"/><circle cx="308.60" cy="237.50" r="0.8"/><circle cx="308.60" cy="239.50" r="0.8"/><circle cx="308.60" cy="286.50" r="0.8"/><circle cx="308.60" cy="298.00" r="0.8"/></g>
<rect x="320.50" y="261.40" width="11.30" height="15.00" fill="none" stroke="#686868" stroke-width="0.85"/>
<line x1="320.50" y1="268.90" x2="331.80" y2="268.90" stroke="#686868" stroke-width="0.85"/>
<line x1="326.15" y1="249.00" x2="326.15" y2="261.40" stroke="#686868" stroke-width="0.85"/>
<line x1="326.15" y1="276.40" x2="326.15" y2="287.00" stroke="#686868" stroke-width="0.85"/>
<line x1="323.15" y1="249.00" x2="329.15" y2="249.00" stroke="#686868" stroke-width="0.85"/>
<line x1="323.15" y1="287.00" x2="329.15" y2="287.00" stroke="#686868" stroke-width="0.85"/>
<g fill="#ff3a1e"><circle cx="322.35" cy="257.32" r="0.8"/><circle cx="323.60" cy="255.45" r="0.8"/><circle cx="324.17" cy="253.88" r="0.8"/><circle cx="327.91" cy="274.73" r="0.8"/><circle cx="325.87" cy="266.69" r="0.8"/><circle cx="323.41" cy="266.52" r="0.8"/><circle cx="324.41" cy="274.51" r="0.8"/><circle cx="322.96" cy="270.89" r="0.8"/><circle cx="325.80" cy="269.94" r="0.8"/><circle cx="324.96" cy="271.71" r="0.8"/><circle cx="324.02" cy="257.56" r="0.8"/><circle cx="329.61" cy="259.30" r="0.8"/><circle cx="324.35" cy="280.24" r="0.8"/><circle cx="325.24" cy="268.95" r="0.8"/><circle cx="325.28" cy="284.63" r="0.8"/><circle cx="322.72" cy="282.78" r="0.8"/><circle cx="326.59" cy="265.15" r="0.8"/><circle cx="324.56" cy="265.65" r="0.8"/><circle cx="328.52" cy="255.26" r="0.8"/><circle cx="327.05" cy="251.11" r="0.8"/><circle cx="325.04" cy="278.81" r="0.8"/><circle cx="326.70" cy="278.29" r="0.8"/><circle cx="329.81" cy="280.56" r="0.8"/><circle cx="325.09" cy="283.82" r="0.8"/><circle cx="330.06" cy="265.86" r="0.8"/><circle cx="326.78" cy="274.21" r="0.8"/><circle cx="327.31" cy="268.93" r="0.8"/><circle cx="329.48" cy="278.83" r="0.8"/><circle cx="325.17" cy="281.02" r="0.8"/><circle cx="324.23" cy="261.66" r="0.8"/><circle cx="330.83" cy="272.22" r="0.8"/><circle cx="324.30" cy="281.72" r="0.8"/><circle cx="330.51" cy="261.18" r="0.8"/><circle cx="324.69" cy="257.38" r="0.8"/><circle cx="331.04" cy="269.17" r="0.8"/><circle cx="325.95" cy="259.78" r="0.8"/><circle cx="322.33" cy="269.37" r="0.8"/><circle cx="324.32" cy="260.21" r="0.8"/><circle cx="328.66" cy="260.57" r="0.8"/><circle cx="326.48" cy="269.74" r="0.8"/><circle cx="323.88" cy="267.29" r="0.8"/><circle cx="324.54" cy="286.72" r="0.8"/><circle cx="324.04" cy="261.22" r="0.8"/><circle cx="325.90" cy="264.82" r="0.8"/><circle cx="327.19" cy="283.56" r="0.8"/><circle cx="323.41" cy="254.33" r="0.8"/><circle cx="328.28" cy="257.76" r="0.8"/><circle cx="324.55" cy="264.60" r="0.8"/><circle cx="324.60" cy="281.94" r="0.8"/><circle cx="325.06" cy="256.69" r="0.8"/><circle cx="328.60" cy="266.58" r="0.8"/><circle cx="323.68" cy="266.35" r="0.8"/><circle cx="325.70" cy="267.26" r="0.8"/><circle cx="326.52" cy="257.26" r="0.8"/><circle cx="325.42" cy="270.66" r="0.8"/><circle cx="327.07" cy="253.38" r="0.8"/><circle cx="325.99" cy="260.91" r="0.8"/><circle cx="325.21" cy="278.23" r="0.8"/><circle cx="329.49" cy="263.12" r="0.8"/><circle cx="329.42" cy="271.98" r="0.8"/><circle cx="322.33" cy="277.70" r="0.8"/><circle cx="325.56" cy="277.74" r="0.8"/><circle cx="324.62" cy="254.23" r="0.8"/><circle cx="322.68" cy="273.59" r="0.8"/><circle cx="326.13" cy="254.99" r="0.8"/><circle cx="324.45" cy="270.80" r="0.8"/><circle cx="328.93" cy="277.31" r="0.8"/><circle cx="322.75" cy="281.03" r="0.8"/><circle cx="329.06" cy="271.48" r="0.8"/><circle cx="328.39" cy="267.59" r="0.8"/><circle cx="330.94" cy="266.73" r="0.8"/><circle cx="323.23" cy="286.18" r="0.8"/><circle cx="329.60" cy="268.72" r="0.8"/><circle cx="330.64" cy="271.98" r="0.8"/><circle cx="327.61" cy="284.62" r="0.8"/><circle cx="330.09" cy="275.03" r="0.8"/><circle cx="322.91" cy="275.82" r="0.8"/><circle cx="323.17" cy="260.07" r="0.8"/><circle cx="327.27" cy="261.54" r="0.8"/><circle cx="324.99" cy="274.02" r="0.8"/><circle cx="321.84" cy="270.34" r="0.8"/><circle cx="327.96" cy="282.51" r="0.8"/><circle cx="329.79" cy="274.05" r="0.8"/><circle cx="324.47" cy="276.75" r="0.8"/><circle cx="327.03" cy="277.73" r="0.8"/><circle cx="324.89" cy="270.62" r="0.8"/><circle cx="323.79" cy="285.05" r="0.8"/><circle cx="327.39" cy="274.80" r="0.8"/><circle cx="326.70" cy="268.00" r="0.8"/><circle cx="326.64" cy="262.60" r="0.8"/><circle cx="323.82" cy="262.92" r="0.8"/><circle cx="322.45" cy="268.95" r="0.8"/><circle cx="324.85" cy="240.50" r="0.8"/><circle cx="327.45" cy="240.50" r="0.8"/><circle cx="326.15" cy="245.50" r="0.8"/><circle cx="326.15" cy="290.10" r="0.8"/></g>
<text transform="translate(351.0,189.0) scale(1.12,1)" x="0" y="0" font-size="12.2" font-weight="bold" stroke="#111" stroke-width="0.75" fill="#111">g</text>
<text x="378.30" y="191.50" font-size="8.2" textLength="116.50" lengthAdjust="spacingAndGlyphs" fill="#2a2a2a">Whole gray matter VBM change</text>
<text x="375.20" y="212.80" font-size="7" textLength="63.50" lengthAdjust="spacingAndGlyphs" class="b">(i) Group differences</text>
<text x="375.20" y="220.50" font-size="7" textLength="46.60" lengthAdjust="spacingAndGlyphs" class="b">(mean ± s.e.m.)</text>
<text transform="translate(357.10,262.60) rotate(-90)" x="0" y="0" font-size="6.3" fill="#3a3a3a" text-anchor="middle" textLength="114.20" lengthAdjust="spacingAndGlyphs">Change from baseline to 52 weeks (mm<tspan font-size="4" dy="-2.4">3</tspan><tspan dy="2.4">)</tspan></text>
<line x1="392.40" y1="231.40" x2="392.40" y2="293.75" stroke="#5a5a5a" stroke-width="0.9"/>
<line x1="390.00" y1="231.40" x2="392.40" y2="231.40" stroke="#5a5a5a" stroke-width="0.9"/>
<text x="387.30" y="233.00" font-size="5.85" text-anchor="end" class="s">0</text>
<line x1="390.00" y1="243.80" x2="392.40" y2="243.80" stroke="#5a5a5a" stroke-width="0.9"/>
<text x="387.30" y="245.40" font-size="5.85" text-anchor="end" class="s">−0.002</text>
<line x1="390.00" y1="256.20" x2="392.40" y2="256.20" stroke="#5a5a5a" stroke-width="0.9"/>
<text x="387.30" y="257.80" font-size="5.85" text-anchor="end" class="s">−0.004</text>
<line x1="390.00" y1="268.60" x2="392.40" y2="268.60" stroke="#5a5a5a" stroke-width="0.9"/>
<text x="387.30" y="270.20" font-size="5.85" text-anchor="end" class="s">−0.006</text>
<line x1="390.00" y1="280.90" x2="392.40" y2="280.90" stroke="#5a5a5a" stroke-width="0.9"/>
<text x="387.30" y="282.50" font-size="5.85" text-anchor="end" class="s">−0.008</text>
<line x1="390.00" y1="293.30" x2="392.40" y2="293.30" stroke="#5a5a5a" stroke-width="0.9"/>
<text x="387.30" y="294.90" font-size="5.85" text-anchor="end" class="s">−0.010</text>
<line x1="390.00" y1="231.40" x2="433.60" y2="231.40" stroke="#5a5a5a" stroke-width="0.9"/>
<line x1="392.40" y1="293.30" x2="433.60" y2="293.30" stroke="#5a5a5a" stroke-width="0.9"/>
<line x1="402.50" y1="293.30" x2="402.50" y2="295.60" stroke="#5a5a5a" stroke-width="0.9"/>
<line x1="423.30" y1="293.30" x2="423.30" y2="295.60" stroke="#5a5a5a" stroke-width="0.9"/>
<rect x="397.80" y="231.40" width="9.50" height="44.30" fill="none" stroke="#4468ff" stroke-width="1.05"/>
<ellipse cx="402.55" cy="276.25" rx="1.25" ry="0.85" fill="#000"/>
<rect x="418.60" y="231.40" width="9.60" height="59.10" fill="none" stroke="#fb503a" stroke-width="1.05"/>
<ellipse cx="423.40" cy="291.05" rx="1.25" ry="0.85" fill="#000"/>
<text transform="translate(406.40,301.30) rotate(-45) scale(0.0961,0.09)" x="0" y="0" font-size="67" text-anchor="end" stroke="#1e1e1e" stroke-width="1.3">Liraglutide</text>
<text transform="translate(427.20,301.30) rotate(-45) scale(0.0914,0.09)" x="0" y="0" font-size="67" text-anchor="end" stroke="#1e1e1e" stroke-width="1.3">Placebo</text>
<rect x="363.10" y="326.40" width="72.50" height="23.90" fill="none" stroke="#4f9a5c" stroke-width="1.1"/>
<text x="366.00" y="333.30" font-size="5.7" class="b">Difference, 0.0030;</text>
<text x="366.00" y="339.80" font-size="5.7" class="b">95% CI: 0.0006 to 0.0054;</text>
<text x="366.00" y="346.30" font-size="5.7" class="b">P = 0.016</text>
<text x="468.80" y="207.70" font-size="7" textLength="39.40" lengthAdjust="spacingAndGlyphs" class="b">(ii) Individual</text>
<text x="468.80" y="215.60" font-size="7" textLength="35.90" lengthAdjust="spacingAndGlyphs" class="b">data spread</text>
<text x="468.80" y="223.50" font-size="7" textLength="39.60" lengthAdjust="spacingAndGlyphs" class="b">(median, IQR</text>
<text x="468.80" y="231.40" font-size="7" textLength="37.60" lengthAdjust="spacingAndGlyphs" class="b">and 95% CI)</text>
<line x1="464.60" y1="226.60" x2="464.60" y2="323.05" stroke="#5a5a5a" stroke-width="0.9"/>
<line x1="462.20" y1="226.60" x2="464.60" y2="226.60" stroke="#5a5a5a" stroke-width="0.9"/>
<text x="459.40" y="228.50" font-size="7.2" text-anchor="end" class="b">0.02</text>
<line x1="462.20" y1="245.80" x2="464.60" y2="245.80" stroke="#5a5a5a" stroke-width="0.9"/>
<text x="459.40" y="247.70" font-size="7.2" text-anchor="end" class="b">0.01</text>
<line x1="462.20" y1="265.00" x2="464.60" y2="265.00" stroke="#5a5a5a" stroke-width="0.9"/>
<text x="459.40" y="266.90" font-size="7.2" text-anchor="end" class="b">0</text>
<line x1="462.20" y1="284.10" x2="464.60" y2="284.10" stroke="#5a5a5a" stroke-width="0.9"/>
<text x="459.40" y="286.00" font-size="7.2" text-anchor="end" class="b">−0.01</text>
<line x1="462.20" y1="303.30" x2="464.60" y2="303.30" stroke="#5a5a5a" stroke-width="0.9"/>
<text x="459.40" y="305.20" font-size="7.2" text-anchor="end" class="b">−0.02</text>
<line x1="462.20" y1="322.60" x2="464.60" y2="322.60" stroke="#5a5a5a" stroke-width="0.9"/>
<text x="459.40" y="324.50" font-size="7.2" text-anchor="end" class="b">−0.03</text>
<line x1="464.60" y1="322.60" x2="513.70" y2="322.60" stroke="#5a5a5a" stroke-width="0.9"/>
<line x1="482.30" y1="322.60" x2="482.30" y2="324.90" stroke="#5a5a5a" stroke-width="0.9"/>
<line x1="500.10" y1="322.60" x2="500.10" y2="324.90" stroke="#5a5a5a" stroke-width="0.9"/>
<text transform="translate(486.20,330.60) rotate(-45) scale(0.1068,0.1)" x="0" y="0" font-size="67" text-anchor="end" stroke="#1e1e1e" stroke-width="1.3">Liraglutide</text>
<text transform="translate(504.00,330.60) rotate(-45) scale(0.1016,0.1)" x="0" y="0" font-size="67" text-anchor="end" stroke="#1e1e1e" stroke-width="1.3">Placebo</text>
<rect x="476.30" y="269.20" width="11.80" height="19.20" fill="none" stroke="#686868" stroke-width="0.85"/>
<line x1="476.30" y1="278.80" x2="488.10" y2="278.80" stroke="#686868" stroke-width="0.85"/>
<line x1="482.20" y1="253.10" x2="482.20" y2="269.20" stroke="#686868" stroke-width="0.85"/>
<line x1="482.20" y1="288.40" x2="482.20" y2="298.50" stroke="#686868" stroke-width="0.85"/>
<line x1="479.20" y1="253.10" x2="485.20" y2="253.10" stroke="#686868" stroke-width="0.85"/>
<line x1="479.20" y1="298.50" x2="485.20" y2="298.50" stroke="#686868" stroke-width="0.85"/>
<g fill="#2d50ff"><circle cx="482.05" cy="285.91" r="0.8"/><circle cx="480.73" cy="253.33" r="0.8"/><circle cx="481.88" cy="278.86" r="0.8"/><circle cx="485.06" cy="279.64" r="0.8"/><circle cx="480.22" cy="265.07" r="0.8"/><circle cx="481.34" cy="286.18" r="0.8"/><circle cx="482.46" cy="256.99" r="0.8"/><circle cx="482.76" cy="274.94" r="0.8"/><circle cx="485.19" cy="270.32" r="0.8"/><circle cx="484.15" cy="276.30" r="0.8"/><circle cx="478.13" cy="285.99" r="0.8"/><circle cx="485.01" cy="268.12" r="0.8"/><circle cx="478.02" cy="284.01" r="0.8"/><circle cx="479.63" cy="264.26" r="0.8"/><circle cx="486.67" cy="270.99" r="0.8"/><circle cx="483.06" cy="269.95" r="0.8"/><circle cx="480.78" cy="285.11" r="0.8"/><circle cx="485.35" cy="298.59" r="0.8"/><circle cx="483.43" cy="293.22" r="0.8"/><circle cx="484.11" cy="269.59" r="0.8"/><circle cx="478.06" cy="292.11" r="0.8"/><circle cx="480.44" cy="266.36" r="0.8"/><circle cx="482.95" cy="293.57" r="0.8"/><circle cx="482.41" cy="294.46" r="0.8"/><circle cx="480.65" cy="294.38" r="0.8"/><circle cx="479.58" cy="292.86" r="0.8"/><circle cx="479.32" cy="271.08" r="0.8"/><circle cx="486.07" cy="279.59" r="0.8"/><circle cx="485.15" cy="278.08" r="0.8"/><circle cx="477.11" cy="276.66" r="0.8"/><circle cx="483.20" cy="263.45" r="0.8"/><circle cx="481.06" cy="274.01" r="0.8"/><circle cx="478.90" cy="291.80" r="0.8"/><circle cx="481.40" cy="283.53" r="0.8"/><circle cx="484.81" cy="278.80" r="0.8"/><circle cx="486.35" cy="279.97" r="0.8"/><circle cx="481.75" cy="264.44" r="0.8"/><circle cx="482.35" cy="291.20" r="0.8"/><circle cx="482.00" cy="256.66" r="0.8"/><circle cx="477.89" cy="274.79" r="0.8"/><circle cx="484.32" cy="264.76" r="0.8"/><circle cx="485.20" cy="277.17" r="0.8"/><circle cx="479.55" cy="295.18" r="0.8"/><circle cx="483.09" cy="286.04" r="0.8"/><circle cx="480.73" cy="279.80" r="0.8"/><circle cx="486.73" cy="278.18" r="0.8"/><circle cx="480.18" cy="294.39" r="0.8"/><circle cx="482.90" cy="254.03" r="0.8"/><circle cx="480.28" cy="294.39" r="0.8"/><circle cx="479.28" cy="262.76" r="0.8"/><circle cx="480.91" cy="281.37" r="0.8"/><circle cx="480.48" cy="269.98" r="0.8"/><circle cx="485.23" cy="258.38" r="0.8"/><circle cx="480.64" cy="265.03" r="0.8"/><circle cx="481.31" cy="292.39" r="0.8"/><circle cx="484.91" cy="253.59" r="0.8"/><circle cx="479.99" cy="280.70" r="0.8"/><circle cx="478.54" cy="294.34" r="0.8"/><circle cx="477.22" cy="279.40" r="0.8"/><circle cx="484.51" cy="279.82" r="0.8"/><circle cx="480.81" cy="271.93" r="0.8"/><circle cx="478.09" cy="268.28" r="0.8"/><circle cx="483.23" cy="290.98" r="0.8"/><circle cx="484.34" cy="256.86" r="0.8"/><circle cx="482.12" cy="290.48" r="0.8"/><circle cx="480.80" cy="272.39" r="0.8"/><circle cx="478.44" cy="280.07" r="0.8"/><circle cx="479.11" cy="265.10" r="0.8"/><circle cx="483.31" cy="265.00" r="0.8"/><circle cx="483.69" cy="284.30" r="0.8"/><circle cx="481.81" cy="282.66" r="0.8"/><circle cx="483.83" cy="294.99" r="0.8"/><circle cx="478.80" cy="266.97" r="0.8"/><circle cx="483.44" cy="281.75" r="0.8"/><circle cx="486.43" cy="273.64" r="0.8"/><circle cx="481.81" cy="262.31" r="0.8"/><circle cx="478.66" cy="270.09" r="0.8"/><circle cx="485.08" cy="255.16" r="0.8"/><circle cx="484.67" cy="291.69" r="0.8"/><circle cx="481.68" cy="270.48" r="0.8"/><circle cx="477.65" cy="275.09" r="0.8"/><circle cx="480.27" cy="291.00" r="0.8"/><circle cx="485.87" cy="284.33" r="0.8"/><circle cx="479.88" cy="276.60" r="0.8"/><circle cx="485.77" cy="293.57" r="0.8"/><circle cx="477.30" cy="275.62" r="0.8"/><circle cx="483.41" cy="292.23" r="0.8"/><circle cx="478.79" cy="275.22" r="0.8"/><circle cx="480.83" cy="277.99" r="0.8"/><circle cx="484.46" cy="293.22" r="0.8"/><circle cx="480.63" cy="271.94" r="0.8"/><circle cx="478.60" cy="289.61" r="0.8"/><circle cx="482.20" cy="236.70" r="0.8"/><circle cx="482.20" cy="243.00" r="0.8"/><circle cx="482.20" cy="310.60" r="0.8"/><circle cx="482.20" cy="305.00" r="0.8"/></g>
<rect x="494.10" y="276.40" width="11.60" height="14.90" fill="none" stroke="#686868" stroke-width="0.85"/>
<line x1="494.10" y1="283.85" x2="505.70" y2="283.85" stroke="#686868" stroke-width="0.85"/>
<line x1="499.90" y1="258.60" x2="499.90" y2="276.40" stroke="#686868" stroke-width="0.85"/>
<line x1="499.90" y1="291.30" x2="499.90" y2="306.00" stroke="#686868" stroke-width="0.85"/>
<line x1="496.90" y1="258.60" x2="502.90" y2="258.60" stroke="#686868" stroke-width="0.85"/>
<line x1="496.90" y1="306.00" x2="502.90" y2="306.00" stroke="#686868" stroke-width="0.85"/>
<g fill="#ff3a1e"><circle cx="499.86" cy="272.05" r="0.8"/><circle cx="495.59" cy="280.25" r="0.8"/><circle cx="496.08" cy="295.82" r="0.8"/><circle cx="500.15" cy="289.85" r="0.8"/><circle cx="496.45" cy="289.12" r="0.8"/><circle cx="500.55" cy="291.13" r="0.8"/><circle cx="497.19" cy="277.86" r="0.8"/><circle cx="500.54" cy="288.92" r="0.8"/><circle cx="496.94" cy="293.59" r="0.8"/><circle cx="498.12" cy="277.72" r="0.8"/><circle cx="502.87" cy="284.72" r="0.8"/><circle cx="500.41" cy="298.22" r="0.8"/><circle cx="498.69" cy="287.56" r="0.8"/><circle cx="499.37" cy="292.92" r="0.8"/><circle cx="501.44" cy="268.41" r="0.8"/><circle cx="501.34" cy="278.72" r="0.8"/><circle cx="501.59" cy="287.48" r="0.8"/><circle cx="504.01" cy="273.83" r="0.8"/><circle cx="498.83" cy="291.80" r="0.8"/><circle cx="496.50" cy="297.13" r="0.8"/><circle cx="497.42" cy="301.90" r="0.8"/><circle cx="502.01" cy="288.47" r="0.8"/><circle cx="495.64" cy="292.40" r="0.8"/><circle cx="500.31" cy="290.07" r="0.8"/><circle cx="500.58" cy="285.64" r="0.8"/><circle cx="503.84" cy="276.16" r="0.8"/><circle cx="502.18" cy="280.49" r="0.8"/><circle cx="502.86" cy="295.85" r="0.8"/><circle cx="496.38" cy="291.80" r="0.8"/><circle cx="497.00" cy="298.02" r="0.8"/><circle cx="504.17" cy="287.37" r="0.8"/><circle cx="502.50" cy="283.48" r="0.8"/><circle cx="501.30" cy="275.84" r="0.8"/><circle cx="498.41" cy="267.89" r="0.8"/><circle cx="503.32" cy="276.89" r="0.8"/><circle cx="502.76" cy="286.44" r="0.8"/><circle cx="500.85" cy="285.64" r="0.8"/><circle cx="497.60" cy="276.40" r="0.8"/><circle cx="504.85" cy="288.45" r="0.8"/><circle cx="501.26" cy="266.19" r="0.8"/><circle cx="496.11" cy="276.13" r="0.8"/><circle cx="500.53" cy="266.34" r="0.8"/><circle cx="496.60" cy="294.19" r="0.8"/><circle cx="504.52" cy="286.01" r="0.8"/><circle cx="504.39" cy="288.21" r="0.8"/><circle cx="497.13" cy="264.66" r="0.8"/><circle cx="496.58" cy="292.07" r="0.8"/><circle cx="494.89" cy="287.99" r="0.8"/><circle cx="503.31" cy="284.11" r="0.8"/><circle cx="498.10" cy="296.44" r="0.8"/><circle cx="496.47" cy="291.57" r="0.8"/><circle cx="504.53" cy="277.73" r="0.8"/><circle cx="498.72" cy="287.25" r="0.8"/><circle cx="500.94" cy="272.03" r="0.8"/><circle cx="499.72" cy="275.94" r="0.8"/><circle cx="503.93" cy="283.09" r="0.8"/><circle cx="496.91" cy="289.79" r="0.8"/><circle cx="500.37" cy="264.82" r="0.8"/><circle cx="504.22" cy="290.24" r="0.8"/><circle cx="496.12" cy="288.70" r="0.8"/><circle cx="500.64" cy="271.51" r="0.8"/><circle cx="500.07" cy="262.18" r="0.8"/><circle cx="501.87" cy="287.47" r="0.8"/><circle cx="503.31" cy="288.55" r="0.8"/><circle cx="503.20" cy="272.32" r="0.8"/><circle cx="502.69" cy="297.86" r="0.8"/><circle cx="502.00" cy="304.28" r="0.8"/><circle cx="496.22" cy="279.44" r="0.8"/><circle cx="498.68" cy="291.02" r="0.8"/><circle cx="495.13" cy="290.28" r="0.8"/><circle cx="498.11" cy="275.56" r="0.8"/><circle cx="501.97" cy="297.24" r="0.8"/><circle cx="503.89" cy="291.49" r="0.8"/><circle cx="496.55" cy="293.00" r="0.8"/><circle cx="503.91" cy="289.60" r="0.8"/><circle cx="504.22" cy="290.80" r="0.8"/><circle cx="500.07" cy="272.42" r="0.8"/><circle cx="498.50" cy="285.96" r="0.8"/><circle cx="503.83" cy="271.24" r="0.8"/><circle cx="503.29" cy="291.90" r="0.8"/><circle cx="501.10" cy="271.45" r="0.8"/><circle cx="496.08" cy="285.06" r="0.8"/><circle cx="495.95" cy="279.93" r="0.8"/><circle cx="497.30" cy="269.80" r="0.8"/><circle cx="499.94" cy="273.22" r="0.8"/><circle cx="502.11" cy="296.59" r="0.8"/><circle cx="496.42" cy="294.88" r="0.8"/><circle cx="497.30" cy="300.05" r="0.8"/><circle cx="498.36" cy="281.80" r="0.8"/><circle cx="503.57" cy="293.56" r="0.8"/><circle cx="497.54" cy="298.79" r="0.8"/><circle cx="503.38" cy="290.11" r="0.8"/><circle cx="499.90" cy="232.50" r="0.8"/><circle cx="499.90" cy="245.70" r="0.8"/><circle cx="499.90" cy="311.30" r="0.8"/></g>
<text transform="translate(521.0,189.0) scale(1.12,1)" x="0" y="0" font-size="12.2" font-weight="bold" stroke="#111" stroke-width="0.75" fill="#111">h</text>
<text x="551.70" y="191.50" font-size="8.2" textLength="121.30" lengthAdjust="spacingAndGlyphs" fill="#2a2a2a">Whole white matter VBM change</text>
<text x="547.10" y="215.50" font-size="7" textLength="63.50" lengthAdjust="spacingAndGlyphs" class="b">(i) Group differences</text>
<text x="547.10" y="223.20" font-size="7" textLength="46.60" lengthAdjust="spacingAndGlyphs" class="b">(mean ± s.e.m.)</text>
<text transform="translate(527.40,262.60) rotate(-90)" x="0" y="0" font-size="6.3" fill="#3a3a3a" text-anchor="middle" textLength="114.20" lengthAdjust="spacingAndGlyphs">Change from baseline to 52 weeks (mm<tspan font-size="4" dy="-2.4">3</tspan><tspan dy="2.4">)</tspan></text>
<line x1="562.40" y1="231.40" x2="562.40" y2="293.95" stroke="#5a5a5a" stroke-width="0.9"/>
<line x1="560.00" y1="231.40" x2="562.40" y2="231.40" stroke="#5a5a5a" stroke-width="0.9"/>
<text x="557.60" y="233.00" font-size="5.85" text-anchor="end" class="s">0</text>
<line x1="560.00" y1="252.10" x2="562.40" y2="252.10" stroke="#5a5a5a" stroke-width="0.9"/>
<text x="557.60" y="253.70" font-size="5.85" text-anchor="end" class="s">−0.005</text>
<line x1="560.00" y1="272.80" x2="562.40" y2="272.80" stroke="#5a5a5a" stroke-width="0.9"/>
<text x="557.60" y="274.40" font-size="5.85" text-anchor="end" class="s">−0.010</text>
<line x1="560.00" y1="293.50" x2="562.40" y2="293.50" stroke="#5a5a5a" stroke-width="0.9"/>
<text x="557.60" y="295.10" font-size="5.85" text-anchor="end" class="s">−0.015</text>
<line x1="560.00" y1="231.40" x2="603.70" y2="231.40" stroke="#5a5a5a" stroke-width="0.9"/>
<line x1="562.40" y1="293.50" x2="603.70" y2="293.50" stroke="#5a5a5a" stroke-width="0.9"/>
<line x1="572.70" y1="293.50" x2="572.70" y2="295.80" stroke="#5a5a5a" stroke-width="0.9"/>
<line x1="593.50" y1="293.50" x2="593.50" y2="295.80" stroke="#5a5a5a" stroke-width="0.9"/>
<rect x="568.00" y="231.40" width="9.50" height="32.20" fill="none" stroke="#4468ff" stroke-width="1.05"/>
<ellipse cx="572.75" cy="264.15" rx="1.25" ry="0.85" fill="#000"/>
<rect x="588.70" y="231.40" width="9.70" height="42.60" fill="none" stroke="#fb503a" stroke-width="1.05"/>
<ellipse cx="593.55" cy="274.55" rx="1.25" ry="0.85" fill="#000"/>
<text transform="translate(576.60,301.50) rotate(-45) scale(0.0961,0.09)" x="0" y="0" font-size="67" text-anchor="end" stroke="#1e1e1e" stroke-width="1.3">Liraglutide</text>
<text transform="translate(597.40,301.50) rotate(-45) scale(0.0914,0.09)" x="0" y="0" font-size="67" text-anchor="end" stroke="#1e1e1e" stroke-width="1.3">Placebo</text>
<rect x="534.50" y="326.40" width="73.00" height="23.90" fill="none" stroke="#4f9a5c" stroke-width="1.1"/>
<text x="537.40" y="333.30" font-size="5.7" class="b">Difference, 0.0032;</text>
<text x="537.40" y="339.80" font-size="5.7" class="b">95% CI: 0.0009 to 0.0055;</text>
<text class="b" x="537.40" y="346.30" font-size="5.7"><tspan font-style="italic">P</tspan> = 0.007</text>
<text x="640.10" y="207.70" font-size="7" textLength="39.40" lengthAdjust="spacingAndGlyphs" class="b">(ii) Individual</text>
<text x="640.10" y="215.60" font-size="7" textLength="35.90" lengthAdjust="spacingAndGlyphs" class="b">data spread</text>
<text x="640.10" y="223.50" font-size="7" textLength="39.60" lengthAdjust="spacingAndGlyphs" class="b">(median, IQR</text>
<text x="640.10" y="231.40" font-size="7" textLength="37.60" lengthAdjust="spacingAndGlyphs" class="b">and 95% CI)</text>
<line x1="636.10" y1="226.60" x2="636.10" y2="323.05" stroke="#5a5a5a" stroke-width="0.9"/>
<line x1="633.70" y1="226.60" x2="636.10" y2="226.60" stroke="#5a5a5a" stroke-width="0.9"/>
<text x="631.10" y="228.50" font-size="7.2" text-anchor="end" class="b">0.02</text>
<line x1="633.70" y1="245.80" x2="636.10" y2="245.80" stroke="#5a5a5a" stroke-width="0.9"/>
<text x="631.10" y="247.70" font-size="7.2" text-anchor="end" class="b">0.01</text>
<line x1="633.70" y1="265.00" x2="636.10" y2="265.00" stroke="#5a5a5a" stroke-width="0.9"/>
<text x="631.10" y="266.90" font-size="7.2" text-anchor="end" class="b">0</text>
<line x1="633.70" y1="284.10" x2="636.10" y2="284.10" stroke="#5a5a5a" stroke-width="0.9"/>
<text x="631.10" y="286.00" font-size="7.2" text-anchor="end" class="b">−0.01</text>
<line x1="633.70" y1="303.30" x2="636.10" y2="303.30" stroke="#5a5a5a" stroke-width="0.9"/>
<text x="631.10" y="305.20" font-size="7.2" text-anchor="end" class="b">−0.02</text>
<line x1="633.70" y1="322.60" x2="636.10" y2="322.60" stroke="#5a5a5a" stroke-width="0.9"/>
<text x="631.10" y="324.50" font-size="7.2" text-anchor="end" class="b">−0.03</text>
<line x1="636.10" y1="322.60" x2="685.00" y2="322.60" stroke="#5a5a5a" stroke-width="0.9"/>
<line x1="653.50" y1="322.60" x2="653.50" y2="324.90" stroke="#5a5a5a" stroke-width="0.9"/>
<line x1="671.00" y1="322.60" x2="671.00" y2="324.90" stroke="#5a5a5a" stroke-width="0.9"/>
<text transform="translate(657.40,330.60) rotate(-45) scale(0.1068,0.1)" x="0" y="0" font-size="67" text-anchor="end" stroke="#1e1e1e" stroke-width="1.3">Liraglutide</text>
<text transform="translate(674.90,330.60) rotate(-45) scale(0.1016,0.1)" x="0" y="0" font-size="67" text-anchor="end" stroke="#1e1e1e" stroke-width="1.3">Placebo</text>
<rect x="648.20" y="270.80" width="11.50" height="16.20" fill="none" stroke="#686868" stroke-width="0.85"/>
<line x1="648.20" y1="278.90" x2="659.70" y2="278.90" stroke="#686868" stroke-width="0.85"/>
<line x1="653.95" y1="254.50" x2="653.95" y2="270.80" stroke="#686868" stroke-width="0.85"/>
<line x1="653.95" y1="287.00" x2="653.95" y2="302.10" stroke="#686868" stroke-width="0.85"/>
<line x1="650.95" y1="254.50" x2="656.95" y2="254.50" stroke="#686868" stroke-width="0.85"/>
<line x1="650.95" y1="302.10" x2="656.95" y2="302.10" stroke="#686868" stroke-width="0.85"/>
<g fill="#2d50ff"><circle cx="655.48" cy="275.83" r="0.8"/><circle cx="649.80" cy="285.04" r="0.8"/><circle cx="650.17" cy="267.73" r="0.8"/><circle cx="654.03" cy="276.34" r="0.8"/><circle cx="650.42" cy="291.35" r="0.8"/><circle cx="649.79" cy="281.89" r="0.8"/><circle cx="651.58" cy="258.89" r="0.8"/><circle cx="651.52" cy="289.17" r="0.8"/><circle cx="654.43" cy="258.59" r="0.8"/><circle cx="653.32" cy="257.96" r="0.8"/><circle cx="657.56" cy="282.57" r="0.8"/><circle cx="651.78" cy="278.35" r="0.8"/><circle cx="652.02" cy="282.61" r="0.8"/><circle cx="657.09" cy="283.63" r="0.8"/><circle cx="655.28" cy="285.58" r="0.8"/><circle cx="652.97" cy="293.27" r="0.8"/><circle cx="649.54" cy="274.77" r="0.8"/><circle cx="650.93" cy="277.62" r="0.8"/><circle cx="652.12" cy="273.53" r="0.8"/><circle cx="654.67" cy="267.41" r="0.8"/><circle cx="656.58" cy="269.20" r="0.8"/><circle cx="655.97" cy="281.84" r="0.8"/><circle cx="654.21" cy="279.48" r="0.8"/><circle cx="656.71" cy="294.59" r="0.8"/><circle cx="658.88" cy="277.63" r="0.8"/><circle cx="650.55" cy="269.09" r="0.8"/><circle cx="651.56" cy="261.31" r="0.8"/><circle cx="653.85" cy="288.84" r="0.8"/><circle cx="655.78" cy="296.20" r="0.8"/><circle cx="654.68" cy="283.25" r="0.8"/><circle cx="655.80" cy="286.29" r="0.8"/><circle cx="654.84" cy="271.55" r="0.8"/><circle cx="656.82" cy="267.28" r="0.8"/><circle cx="658.25" cy="272.52" r="0.8"/><circle cx="650.93" cy="261.39" r="0.8"/><circle cx="656.00" cy="281.77" r="0.8"/><circle cx="655.80" cy="256.08" r="0.8"/><circle cx="655.67" cy="276.34" r="0.8"/><circle cx="649.92" cy="290.48" r="0.8"/><circle cx="650.30" cy="271.83" r="0.8"/><circle cx="649.43" cy="280.64" r="0.8"/><circle cx="651.35" cy="279.62" r="0.8"/><circle cx="652.89" cy="272.62" r="0.8"/><circle cx="653.44" cy="282.30" r="0.8"/><circle cx="654.45" cy="275.34" r="0.8"/><circle cx="656.55" cy="295.41" r="0.8"/><circle cx="652.27" cy="264.04" r="0.8"/><circle cx="657.37" cy="269.14" r="0.8"/><circle cx="658.43" cy="284.64" r="0.8"/><circle cx="651.27" cy="283.26" r="0.8"/><circle cx="651.36" cy="284.97" r="0.8"/><circle cx="652.22" cy="262.95" r="0.8"/><circle cx="648.86" cy="280.41" r="0.8"/><circle cx="654.54" cy="268.83" r="0.8"/><circle cx="658.39" cy="284.52" r="0.8"/><circle cx="655.11" cy="273.62" r="0.8"/><circle cx="655.35" cy="265.44" r="0.8"/><circle cx="656.53" cy="287.47" r="0.8"/><circle cx="653.14" cy="294.04" r="0.8"/><circle cx="653.20" cy="263.67" r="0.8"/><circle cx="650.49" cy="292.45" r="0.8"/><circle cx="650.15" cy="289.22" r="0.8"/><circle cx="652.31" cy="280.73" r="0.8"/><circle cx="649.67" cy="285.81" r="0.8"/><circle cx="650.14" cy="285.78" r="0.8"/><circle cx="652.55" cy="278.91" r="0.8"/><circle cx="655.10" cy="282.80" r="0.8"/><circle cx="652.45" cy="284.35" r="0.8"/><circle cx="652.66" cy="286.26" r="0.8"/><circle cx="657.44" cy="295.63" r="0.8"/><circle cx="653.71" cy="295.18" r="0.8"/><circle cx="650.02" cy="273.84" r="0.8"/><circle cx="652.33" cy="279.42" r="0.8"/><circle cx="650.49" cy="276.81" r="0.8"/><circle cx="651.18" cy="301.37" r="0.8"/><circle cx="651.20" cy="292.93" r="0.8"/><circle cx="654.38" cy="274.44" r="0.8"/><circle cx="657.61" cy="293.41" r="0.8"/><circle cx="657.66" cy="281.39" r="0.8"/><circle cx="652.60" cy="275.80" r="0.8"/><circle cx="650.91" cy="270.09" r="0.8"/><circle cx="656.81" cy="280.94" r="0.8"/><circle cx="652.65" cy="264.23" r="0.8"/><circle cx="658.84" cy="282.60" r="0.8"/><circle cx="656.05" cy="300.52" r="0.8"/><circle cx="656.21" cy="286.55" r="0.8"/><circle cx="652.28" cy="258.08" r="0.8"/><circle cx="649.92" cy="267.71" r="0.8"/><circle cx="649.10" cy="277.65" r="0.8"/><circle cx="655.92" cy="277.19" r="0.8"/><circle cx="658.09" cy="288.04" r="0.8"/><circle cx="658.37" cy="288.09" r="0.8"/><circle cx="653.95" cy="244.50" r="0.8"/><circle cx="653.95" cy="247.50" r="0.8"/><circle cx="653.95" cy="307.00" r="0.8"/></g>
<rect x="665.00" y="276.40" width="11.60" height="14.90" fill="none" stroke="#686868" stroke-width="0.85"/>
<line x1="665.00" y1="283.85" x2="676.60" y2="283.85" stroke="#686868" stroke-width="0.85"/>
<line x1="670.80" y1="262.20" x2="670.80" y2="276.40" stroke="#686868" stroke-width="0.85"/>
<line x1="670.80" y1="291.30" x2="670.80" y2="309.40" stroke="#686868" stroke-width="0.85"/>
<line x1="667.80" y1="262.20" x2="673.80" y2="262.20" stroke="#686868" stroke-width="0.85"/>
<line x1="667.80" y1="309.40" x2="673.80" y2="309.40" stroke="#686868" stroke-width="0.85"/>
<g fill="#ff3a1e"><circle cx="668.37" cy="293.95" r="0.8"/><circle cx="668.01" cy="280.92" r="0.8"/><circle cx="672.08" cy="286.30" r="0.8"/><circle cx="674.60" cy="290.90" r="0.8"/><circle cx="672.26" cy="290.64" r="0.8"/><circle cx="673.36" cy="273.21" r="0.8"/><circle cx="673.89" cy="297.84" r="0.8"/><circle cx="673.40" cy="292.10" r="0.8"/><circle cx="667.46" cy="283.86" r="0.8"/><circle cx="673.10" cy="271.26" r="0.8"/><circle cx="674.93" cy="274.02" r="0.8"/><circle cx="670.11" cy="301.08" r="0.8"/><circle cx="672.07" cy="262.07" r="0.8"/><circle cx="668.46" cy="299.39" r="0.8"/><circle cx="674.86" cy="288.26" r="0.8"/><circle cx="673.87" cy="288.38" r="0.8"/><circle cx="674.63" cy="296.40" r="0.8"/><circle cx="671.88" cy="300.28" r="0.8"/><circle cx="667.40" cy="275.63" r="0.8"/><circle cx="666.74" cy="295.10" r="0.8"/><circle cx="670.99" cy="299.58" r="0.8"/><circle cx="675.24" cy="280.94" r="0.8"/><circle cx="672.72" cy="263.37" r="0.8"/><circle cx="668.20" cy="292.89" r="0.8"/><circle cx="668.10" cy="283.74" r="0.8"/><circle cx="671.57" cy="293.05" r="0.8"/><circle cx="666.97" cy="283.17" r="0.8"/><circle cx="674.20" cy="295.34" r="0.8"/><circle cx="671.58" cy="276.43" r="0.8"/><circle cx="674.36" cy="293.57" r="0.8"/><circle cx="670.81" cy="262.17" r="0.8"/><circle cx="671.06" cy="295.66" r="0.8"/><circle cx="670.18" cy="281.73" r="0.8"/><circle cx="667.50" cy="283.53" r="0.8"/><circle cx="668.82" cy="303.63" r="0.8"/><circle cx="670.52" cy="284.34" r="0.8"/><circle cx="669.01" cy="281.66" r="0.8"/><circle cx="670.94" cy="269.94" r="0.8"/><circle cx="668.28" cy="265.67" r="0.8"/><circle cx="671.38" cy="277.25" r="0.8"/><circle cx="673.63" cy="283.93" r="0.8"/><circle cx="670.87" cy="292.74" r="0.8"/><circle cx="673.54" cy="266.58" r="0.8"/><circle cx="670.26" cy="276.79" r="0.8"/><circle cx="670.91" cy="273.88" r="0.8"/><circle cx="672.56" cy="275.33" r="0.8"/><circle cx="670.63" cy="270.82" r="0.8"/><circle cx="675.25" cy="287.87" r="0.8"/><circle cx="674.99" cy="276.76" r="0.8"/><circle cx="669.43" cy="262.40" r="0.8"/><circle cx="673.79" cy="274.18" r="0.8"/><circle cx="670.21" cy="287.51" r="0.8"/><circle cx="666.50" cy="288.12" r="0.8"/><circle cx="672.56" cy="284.10" r="0.8"/><circle cx="673.65" cy="288.15" r="0.8"/><circle cx="672.94" cy="288.95" r="0.8"/><circle cx="672.42" cy="279.99" r="0.8"/><circle cx="674.29" cy="298.10" r="0.8"/><circle cx="668.98" cy="301.74" r="0.8"/><circle cx="670.69" cy="294.49" r="0.8"/><circle cx="675.79" cy="280.58" r="0.8"/><circle cx="670.10" cy="287.10" r="0.8"/><circle cx="670.95" cy="278.16" r="0.8"/><circle cx="668.97" cy="279.98" r="0.8"/><circle cx="672.95" cy="290.03" r="0.8"/><circle cx="670.35" cy="297.78" r="0.8"/><circle cx="665.82" cy="285.56" r="0.8"/><circle cx="670.91" cy="276.28" r="0.8"/><circle cx="667.45" cy="297.32" r="0.8"/><circle cx="673.69" cy="303.23" r="0.8"/><circle cx="666.72" cy="282.03" r="0.8"/><circle cx="673.70" cy="283.54" r="0.8"/><circle cx="668.46" cy="286.97" r="0.8"/><circle cx="674.61" cy="291.79" r="0.8"/><circle cx="673.72" cy="292.26" r="0.8"/><circle cx="675.16" cy="283.51" r="0.8"/><circle cx="671.48" cy="290.12" r="0.8"/><circle cx="666.22" cy="282.38" r="0.8"/><circle cx="672.68" cy="279.30" r="0.8"/><circle cx="675.24" cy="280.03" r="0.8"/><circle cx="672.19" cy="285.79" r="0.8"/><circle cx="674.49" cy="285.32" r="0.8"/><circle cx="666.45" cy="279.47" r="0.8"/><circle cx="669.31" cy="291.75" r="0.8"/><circle cx="671.27" cy="274.63" r="0.8"/><circle cx="667.35" cy="291.66" r="0.8"/><circle cx="671.07" cy="279.97" r="0.8"/><circle cx="667.28" cy="284.24" r="0.8"/><circle cx="666.36" cy="289.15" r="0.8"/><circle cx="668.80" cy="286.70" r="0.8"/><circle cx="673.13" cy="292.97" r="0.8"/><circle cx="667.52" cy="280.62" r="0.8"/><circle cx="670.80" cy="254.00" r="0.8"/><circle cx="670.80" cy="259.00" r="0.8"/><circle cx="670.80" cy="316.60" r="0.8"/><circle cx="670.80" cy="313.00" r="0.8"/></g>
</svg>
</body></html>
